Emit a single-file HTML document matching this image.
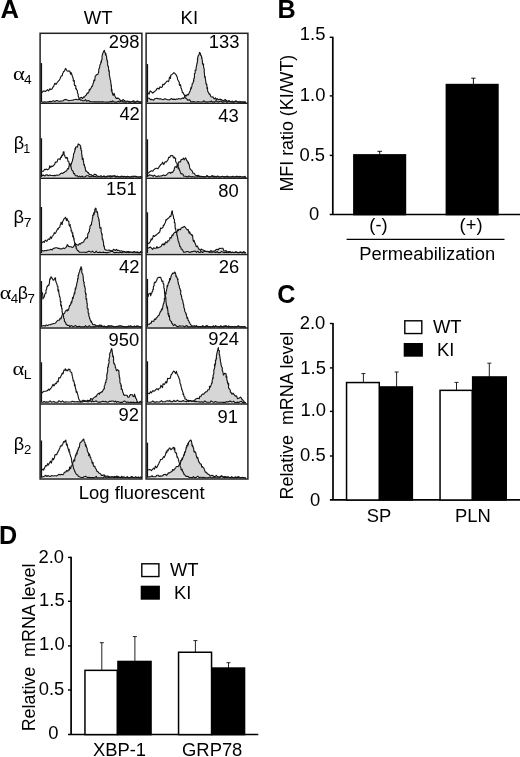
<!DOCTYPE html>
<html><head><meta charset="utf-8"><title>Figure</title>
<style>
html,body{margin:0;padding:0;background:#fff;}
body{width:520px;height:757px;overflow:hidden;}
svg{display:block;font-family:"Liberation Sans",sans-serif;fill:#000;will-change:transform;}
</style></head><body>
<svg width="520" height="757" viewBox="0 0 520 757">
<g id="hist">
<path d="M42.0 102.1 L43.5 102.1 L44.4 101.8 L45.7 102.1 L46.5 102.0 L48.1 101.9 L48.6 101.9 L50.1 101.4 L51.0 101.7 L52.1 101.2 L53.3 100.8 L54.9 101.5 L56.2 100.6 L57.1 100.5 L58.6 101.3 L59.4 101.2 L60.6 101.1 L61.6 101.0 L63.0 100.9 L64.0 100.0 L65.1 99.4 L66.6 99.8 L67.4 100.1 L68.9 100.8 L70.1 100.5 L71.5 100.3 L72.8 100.1 L73.5 99.9 L75.0 99.5 L75.9 99.2 L77.1 99.8 L78.4 99.7 L79.5 99.0 L80.5 97.7 L81.5 97.3 L82.6 98.5 L83.7 96.9 L84.3 97.3 L85.7 95.3 L86.2 95.3 L87.2 92.9 L87.8 93.5 L89.0 91.6 L89.4 89.2 L89.7 90.2 L90.4 89.2 L91.2 87.7 L91.8 86.2 L92.0 86.6 L92.6 85.7 L93.2 83.2 L93.6 82.5 L93.9 80.1 L94.3 80.8 L94.8 80.4 L95.1 76.8 L95.3 76.1 L96.0 75.5 L96.4 74.7 L97.8 74.4 L98.5 72.6 L98.7 72.0 L98.8 69.3 L99.5 67.8 L99.9 66.1 L99.8 65.4 L100.3 64.1 L100.6 64.1 L100.7 63.3 L101.3 60.5 L101.4 62.1 L101.5 60.2 L102.1 59.5 L102.0 57.7 L102.2 55.6 L102.4 54.7 L102.7 53.6 L103.6 51.5 L103.6 51.3 L104.4 50.4 L104.5 51.8 L105.2 52.7 L105.6 55.1 L105.7 53.2 L106.3 55.7 L106.6 56.5 L106.7 59.6 L106.6 59.1 L107.4 60.4 L107.1 61.5 L107.6 61.6 L107.6 64.8 L107.8 65.8 L108.0 66.3 L108.5 66.5 L108.5 68.1 L108.8 71.2 L108.9 70.2 L109.2 70.7 L109.4 73.3 L109.1 73.9 L109.5 75.7 L109.8 77.2 L110.1 78.8 L110.1 79.0 L110.1 79.1 L110.7 80.9 L110.6 81.4 L111.1 84.4 L111.0 85.7 L111.2 84.8 L111.5 86.5 L111.4 88.9 L111.4 90.9 L111.8 89.1 L112.0 91.0 L112.2 92.7 L113.1 95.4 L114.1 93.3 L114.7 95.4 L115.4 96.9 L116.2 98.4 L117.7 98.1 L118.9 98.5 L119.7 99.7 L120.7 100.5 L122.1 100.7 L123.0 99.5 L124.4 100.6 L125.5 101.2 L126.9 101.3 L127.5 101.5 L129.1 101.3 L130.1 101.8 L131.2 102.0 L132.7 101.3 L133.9 100.8 L134.8 102.1 L135.6 102.1 L137.2 101.0 L138.5 101.6 L139.5 102.1 L140.9 102.1 L141.9 102.6 L141.9 102.1 L42.0 102.1 Z" fill="#d6d6d6" stroke="none"/>
<path d="M42.0 102.1 L43.5 102.1 L44.4 101.8 L45.7 102.1 L46.5 102.0 L48.1 101.9 L48.6 101.9 L50.1 101.4 L51.0 101.7 L52.1 101.2 L53.3 100.8 L54.9 101.5 L56.2 100.6 L57.1 100.5 L58.6 101.3 L59.4 101.2 L60.6 101.1 L61.6 101.0 L63.0 100.9 L64.0 100.0 L65.1 99.4 L66.6 99.8 L67.4 100.1 L68.9 100.8 L70.1 100.5 L71.5 100.3 L72.8 100.1 L73.5 99.9 L75.0 99.5 L75.9 99.2 L77.1 99.8 L78.4 99.7 L79.5 99.0 L80.5 97.7 L81.5 97.3 L82.6 98.5 L83.7 96.9 L84.3 97.3 L85.7 95.3 L86.2 95.3 L87.2 92.9 L87.8 93.5 L89.0 91.6 L89.4 89.2 L89.7 90.2 L90.4 89.2 L91.2 87.7 L91.8 86.2 L92.0 86.6 L92.6 85.7 L93.2 83.2 L93.6 82.5 L93.9 80.1 L94.3 80.8 L94.8 80.4 L95.1 76.8 L95.3 76.1 L96.0 75.5 L96.4 74.7 L97.8 74.4 L98.5 72.6 L98.7 72.0 L98.8 69.3 L99.5 67.8 L99.9 66.1 L99.8 65.4 L100.3 64.1 L100.6 64.1 L100.7 63.3 L101.3 60.5 L101.4 62.1 L101.5 60.2 L102.1 59.5 L102.0 57.7 L102.2 55.6 L102.4 54.7 L102.7 53.6 L103.6 51.5 L103.6 51.3 L104.4 50.4 L104.5 51.8 L105.2 52.7 L105.6 55.1 L105.7 53.2 L106.3 55.7 L106.6 56.5 L106.7 59.6 L106.6 59.1 L107.4 60.4 L107.1 61.5 L107.6 61.6 L107.6 64.8 L107.8 65.8 L108.0 66.3 L108.5 66.5 L108.5 68.1 L108.8 71.2 L108.9 70.2 L109.2 70.7 L109.4 73.3 L109.1 73.9 L109.5 75.7 L109.8 77.2 L110.1 78.8 L110.1 79.0 L110.1 79.1 L110.7 80.9 L110.6 81.4 L111.1 84.4 L111.0 85.7 L111.2 84.8 L111.5 86.5 L111.4 88.9 L111.4 90.9 L111.8 89.1 L112.0 91.0 L112.2 92.7 L113.1 95.4 L114.1 93.3 L114.7 95.4 L115.4 96.9 L116.2 98.4 L117.7 98.1 L118.9 98.5 L119.7 99.7 L120.7 100.5 L122.1 100.7 L123.0 99.5 L124.4 100.6 L125.5 101.2 L126.9 101.3 L127.5 101.5 L129.1 101.3 L130.1 101.8 L131.2 102.0 L132.7 101.3 L133.9 100.8 L134.8 102.1 L135.6 102.1 L137.2 101.0 L138.5 101.6 L139.5 102.1 L140.9 102.1 L141.9 102.6" fill="none" stroke="#141414" stroke-width="1.12" stroke-linejoin="round"/>
<path d="M42.0 92.7 L43.0 91.2 L44.2 90.9 L45.4 91.4 L46.7 90.6 L47.5 89.7 L48.7 90.8 L49.9 88.7 L50.8 89.6 L52.0 89.0 L53.0 87.0 L53.8 86.2 L54.6 83.6 L55.1 83.3 L56.0 84.5 L57.2 82.5 L57.7 81.9 L58.6 80.9 L59.4 80.0 L59.6 79.9 L60.3 78.1 L61.2 76.1 L61.5 75.8 L62.3 75.6 L62.6 73.5 L63.1 72.7 L63.6 71.6 L64.3 71.2 L65.0 69.6 L65.7 68.4 L66.9 70.7 L68.1 71.3 L68.9 70.9 L69.7 71.0 L70.7 74.3 L71.0 72.5 L72.0 74.7 L72.1 75.7 L72.4 76.2 L73.3 78.8 L73.2 80.8 L73.9 81.3 L74.4 80.6 L74.3 84.5 L74.8 85.7 L75.2 85.3 L75.9 86.4 L75.7 88.7 L76.3 88.5 L76.4 89.4 L77.1 90.4 L77.4 90.6 L77.4 93.1 L78.2 94.0 L78.1 95.7 L79.0 98.0 L78.9 99.0 L79.5 99.1 L80.5 100.1 L81.4 100.0 L82.8 100.9 L84.4 100.7 L85.6 99.6 L86.5 101.2 L88.1 100.6 L89.0 100.8 L90.2 101.8 L91.1 101.8 L92.8 101.8 L93.8 101.9 L94.8 101.9 L96.3 101.9 L97.1 101.9 L98.3 101.9 L99.8 101.9 L101.4 102.0 L102.5 101.6 L103.5 102.0 L104.6 102.0 L106.1 102.0 L106.9 102.1 L108.0 102.1 L109.5 102.1 L110.8 101.3 L111.8 102.1 L112.8 100.9 L114.5 102.1 L115.1 102.1 L116.8 102.1 L118.2 101.4 L119.0 101.4 L120.0 101.9 L121.4 101.0 L122.7 101.9 L124.2 101.9 L125.2 102.1 L126.2 102.1 L127.6 101.1 L128.6 102.1 L130.2 102.1 L130.7 102.1 L132.5 101.2 L133.4 102.1 L134.4 102.1 L136.1 102.1 L137.4 101.2 L138.1 101.7 L139.2 102.1 L140.5 102.1 L141.9 102.6" fill="none" stroke="#141414" stroke-width="1.12" stroke-linejoin="round"/>
<rect x="40.6" y="63.1" width="1.5" height="39.0" fill="#111"/>
<path d="M148.1 98.0 L149.1 98.3 L150.8 99.7 L151.4 99.4 L152.8 99.7 L153.7 100.2 L154.6 98.8 L155.9 98.5 L157.0 98.4 L158.1 98.7 L159.2 98.9 L160.6 98.7 L161.8 99.3 L163.4 99.7 L164.4 98.8 L165.8 99.1 L167.1 99.6 L168.2 99.7 L169.2 100.0 L170.7 99.0 L171.7 98.6 L172.4 99.4 L173.9 99.1 L175.4 99.6 L176.5 99.0 L177.3 99.3 L178.8 98.5 L180.2 99.0 L181.2 98.9 L182.4 98.0 L183.6 98.4 L184.3 97.4 L185.3 95.2 L186.6 95.9 L187.1 94.4 L188.2 94.9 L189.1 93.1 L189.8 91.6 L190.2 91.0 L190.9 87.5 L191.2 88.8 L191.7 86.9 L192.3 84.1 L192.2 83.6 L193.0 83.2 L193.4 81.3 L193.6 79.9 L193.7 81.4 L193.9 78.2 L194.4 78.1 L194.5 76.8 L194.4 73.8 L195.1 73.3 L195.2 72.3 L195.1 70.2 L195.7 69.9 L196.0 70.2 L196.1 68.4 L196.3 66.5 L196.5 66.0 L197.0 63.6 L197.2 62.8 L196.8 64.1 L197.5 61.3 L197.5 61.9 L197.5 58.4 L197.7 59.5 L197.8 57.1 L198.3 55.7 L199.1 54.7 L199.5 52.3 L199.7 52.5 L200.5 53.6 L200.6 55.3 L201.4 55.7 L201.6 58.2 L201.5 56.4 L202.1 59.2 L202.1 59.7 L202.4 61.1 L202.5 63.9 L203.3 64.8 L203.6 63.8 L203.5 66.3 L204.0 68.3 L203.8 68.1 L204.4 69.6 L204.1 71.5 L204.3 72.2 L204.3 72.2 L204.6 76.1 L204.8 77.6 L205.2 76.6 L205.2 77.6 L205.8 81.4 L205.7 81.1 L206.0 83.3 L206.5 84.8 L206.6 84.8 L206.8 84.2 L207.0 86.8 L207.0 88.6 L207.6 87.7 L207.5 89.2 L207.8 91.6 L208.3 92.1 L209.4 94.5 L209.8 94.0 L210.4 95.3 L211.0 96.9 L211.8 97.0 L212.9 96.9 L214.2 99.0 L215.5 97.9 L216.3 99.9 L217.1 98.6 L218.4 99.7 L219.4 99.2 L220.5 99.4 L221.9 99.9 L223.2 101.0 L224.1 100.3 L225.3 99.5 L226.3 100.6 L227.6 101.2 L229.1 100.6 L230.1 101.6 L231.1 101.8 L232.4 101.1 L233.3 101.9 L234.7 102.0 L236.0 100.8 L237.5 102.1 L238.2 102.1 L239.9 101.9 L241.3 101.9 L241.9 102.0 L243.7 102.1 L244.9 101.7 L245.9 102.6 L245.9 102.1 L148.1 102.1 Z" fill="#d6d6d6" stroke="none"/>
<path d="M148.1 98.0 L149.1 98.3 L150.8 99.7 L151.4 99.4 L152.8 99.7 L153.7 100.2 L154.6 98.8 L155.9 98.5 L157.0 98.4 L158.1 98.7 L159.2 98.9 L160.6 98.7 L161.8 99.3 L163.4 99.7 L164.4 98.8 L165.8 99.1 L167.1 99.6 L168.2 99.7 L169.2 100.0 L170.7 99.0 L171.7 98.6 L172.4 99.4 L173.9 99.1 L175.4 99.6 L176.5 99.0 L177.3 99.3 L178.8 98.5 L180.2 99.0 L181.2 98.9 L182.4 98.0 L183.6 98.4 L184.3 97.4 L185.3 95.2 L186.6 95.9 L187.1 94.4 L188.2 94.9 L189.1 93.1 L189.8 91.6 L190.2 91.0 L190.9 87.5 L191.2 88.8 L191.7 86.9 L192.3 84.1 L192.2 83.6 L193.0 83.2 L193.4 81.3 L193.6 79.9 L193.7 81.4 L193.9 78.2 L194.4 78.1 L194.5 76.8 L194.4 73.8 L195.1 73.3 L195.2 72.3 L195.1 70.2 L195.7 69.9 L196.0 70.2 L196.1 68.4 L196.3 66.5 L196.5 66.0 L197.0 63.6 L197.2 62.8 L196.8 64.1 L197.5 61.3 L197.5 61.9 L197.5 58.4 L197.7 59.5 L197.8 57.1 L198.3 55.7 L199.1 54.7 L199.5 52.3 L199.7 52.5 L200.5 53.6 L200.6 55.3 L201.4 55.7 L201.6 58.2 L201.5 56.4 L202.1 59.2 L202.1 59.7 L202.4 61.1 L202.5 63.9 L203.3 64.8 L203.6 63.8 L203.5 66.3 L204.0 68.3 L203.8 68.1 L204.4 69.6 L204.1 71.5 L204.3 72.2 L204.3 72.2 L204.6 76.1 L204.8 77.6 L205.2 76.6 L205.2 77.6 L205.8 81.4 L205.7 81.1 L206.0 83.3 L206.5 84.8 L206.6 84.8 L206.8 84.2 L207.0 86.8 L207.0 88.6 L207.6 87.7 L207.5 89.2 L207.8 91.6 L208.3 92.1 L209.4 94.5 L209.8 94.0 L210.4 95.3 L211.0 96.9 L211.8 97.0 L212.9 96.9 L214.2 99.0 L215.5 97.9 L216.3 99.9 L217.1 98.6 L218.4 99.7 L219.4 99.2 L220.5 99.4 L221.9 99.9 L223.2 101.0 L224.1 100.3 L225.3 99.5 L226.3 100.6 L227.6 101.2 L229.1 100.6 L230.1 101.6 L231.1 101.8 L232.4 101.1 L233.3 101.9 L234.7 102.0 L236.0 100.8 L237.5 102.1 L238.2 102.1 L239.9 101.9 L241.3 101.9 L241.9 102.0 L243.7 102.1 L244.9 101.7 L245.9 102.6" fill="none" stroke="#141414" stroke-width="1.12" stroke-linejoin="round"/>
<path d="M148.1 92.7 L149.1 94.1 L150.1 90.9 L151.6 92.0 L152.8 93.2 L154.0 92.0 L154.9 91.2 L156.0 90.4 L157.2 88.4 L158.3 88.4 L159.0 89.2 L160.0 86.8 L161.2 87.4 L162.3 87.0 L162.7 84.3 L164.0 84.8 L164.7 83.4 L165.4 83.2 L166.7 81.3 L167.6 81.1 L168.4 81.6 L169.0 80.3 L169.5 77.0 L170.5 78.4 L170.8 75.1 L171.8 74.7 L173.0 73.6 L173.9 72.6 L174.8 73.4 L176.0 74.7 L176.8 76.3 L176.6 75.9 L177.3 77.3 L177.6 79.5 L178.5 81.0 L178.5 81.1 L179.2 82.1 L179.4 84.9 L179.7 85.5 L180.4 84.7 L180.9 86.1 L180.8 88.0 L181.3 88.2 L182.0 90.9 L182.0 90.3 L182.4 92.7 L183.4 92.8 L183.4 93.7 L184.2 94.7 L185.2 97.9 L185.6 98.0 L187.0 99.2 L187.6 100.3 L189.1 99.9 L189.8 99.8 L190.9 101.9 L192.2 101.9 L193.5 101.5 L194.4 101.9 L195.3 102.0 L196.6 102.0 L198.4 101.6 L199.3 102.0 L200.4 102.0 L201.9 102.0 L202.6 101.7 L204.0 100.8 L205.3 102.1 L206.2 101.7 L207.8 102.1 L208.5 101.7 L209.9 101.7 L211.4 100.9 L212.3 102.1 L213.3 101.8 L214.6 102.1 L215.7 100.9 L217.1 101.4 L218.3 102.1 L219.3 101.5 L220.9 101.0 L222.3 102.1 L222.8 102.1 L224.7 101.5 L225.9 101.0 L226.4 102.1 L227.7 102.1 L229.5 101.1 L230.6 102.0 L231.8 102.0 L233.0 102.1 L233.6 102.1 L235.0 101.2 L236.5 101.2 L237.3 101.7 L238.7 102.1 L239.6 101.7 L241.0 102.1 L242.1 102.1 L243.6 102.1 L244.7 102.1 L245.9 102.6" fill="none" stroke="#141414" stroke-width="1.12" stroke-linejoin="round"/>
<rect x="146.6" y="64.1" width="1.5" height="38.0" fill="#111"/>
<path d="M42.0 175.4 L43.6 175.1 L44.9 176.0 L45.5 175.1 L47.1 174.8 L48.3 175.7 L49.6 175.0 L50.9 175.4 L52.2 175.5 L53.6 175.6 L54.3 175.4 L55.6 175.6 L56.9 175.1 L58.0 175.3 L59.4 174.8 L60.3 173.8 L61.7 173.1 L62.4 173.4 L63.9 172.5 L64.6 172.2 L65.1 171.3 L66.1 171.3 L66.5 171.1 L67.7 168.6 L68.5 168.9 L68.9 166.9 L69.4 164.3 L69.9 163.5 L70.8 165.4 L71.3 164.2 L72.0 161.7 L72.3 161.7 L72.8 158.5 L72.7 159.6 L73.3 157.2 L73.5 154.7 L73.7 153.2 L74.2 153.2 L74.6 151.3 L74.7 151.6 L75.1 148.3 L75.4 149.5 L75.7 147.2 L76.3 146.8 L77.4 147.1 L78.2 143.9 L79.5 144.7 L80.5 145.8 L80.7 146.6 L80.6 148.6 L81.1 148.1 L81.0 150.1 L81.7 150.9 L81.6 152.1 L81.6 153.4 L82.2 156.3 L81.8 155.8 L82.2 157.4 L82.3 159.5 L83.1 158.3 L83.3 161.0 L83.7 162.2 L83.7 163.8 L83.8 164.9 L84.4 164.6 L85.0 168.0 L85.2 167.4 L85.5 169.6 L85.8 171.2 L86.5 171.0 L87.8 172.7 L88.3 172.6 L89.5 174.6 L90.0 174.8 L90.9 174.5 L92.7 175.9 L93.2 175.4 L94.7 174.3 L96.0 174.6 L97.2 176.1 L98.4 176.3 L99.5 176.5 L101.0 175.7 L101.7 176.2 L102.8 176.6 L104.1 175.9 L105.3 176.7 L107.1 176.8 L107.7 176.8 L109.5 176.0 L110.1 175.6 L111.4 176.9 L112.8 176.2 L114.3 175.7 L115.2 175.8 L116.5 177.0 L117.5 176.3 L119.0 176.8 L120.1 176.8 L121.0 177.0 L122.9 176.4 L123.6 176.9 L125.2 176.5 L126.4 176.9 L127.3 177.0 L128.3 177.0 L129.7 177.0 L131.0 177.0 L131.9 176.2 L133.2 176.2 L134.5 176.2 L135.9 176.3 L137.2 177.0 L138.4 177.0 L139.1 177.0 L141.0 177.0 L141.9 177.7 L141.9 177.0 L42.0 177.0 Z" fill="#d6d6d6" stroke="none"/>
<path d="M42.0 175.4 L43.6 175.1 L44.9 176.0 L45.5 175.1 L47.1 174.8 L48.3 175.7 L49.6 175.0 L50.9 175.4 L52.2 175.5 L53.6 175.6 L54.3 175.4 L55.6 175.6 L56.9 175.1 L58.0 175.3 L59.4 174.8 L60.3 173.8 L61.7 173.1 L62.4 173.4 L63.9 172.5 L64.6 172.2 L65.1 171.3 L66.1 171.3 L66.5 171.1 L67.7 168.6 L68.5 168.9 L68.9 166.9 L69.4 164.3 L69.9 163.5 L70.8 165.4 L71.3 164.2 L72.0 161.7 L72.3 161.7 L72.8 158.5 L72.7 159.6 L73.3 157.2 L73.5 154.7 L73.7 153.2 L74.2 153.2 L74.6 151.3 L74.7 151.6 L75.1 148.3 L75.4 149.5 L75.7 147.2 L76.3 146.8 L77.4 147.1 L78.2 143.9 L79.5 144.7 L80.5 145.8 L80.7 146.6 L80.6 148.6 L81.1 148.1 L81.0 150.1 L81.7 150.9 L81.6 152.1 L81.6 153.4 L82.2 156.3 L81.8 155.8 L82.2 157.4 L82.3 159.5 L83.1 158.3 L83.3 161.0 L83.7 162.2 L83.7 163.8 L83.8 164.9 L84.4 164.6 L85.0 168.0 L85.2 167.4 L85.5 169.6 L85.8 171.2 L86.5 171.0 L87.8 172.7 L88.3 172.6 L89.5 174.6 L90.0 174.8 L90.9 174.5 L92.7 175.9 L93.2 175.4 L94.7 174.3 L96.0 174.6 L97.2 176.1 L98.4 176.3 L99.5 176.5 L101.0 175.7 L101.7 176.2 L102.8 176.6 L104.1 175.9 L105.3 176.7 L107.1 176.8 L107.7 176.8 L109.5 176.0 L110.1 175.6 L111.4 176.9 L112.8 176.2 L114.3 175.7 L115.2 175.8 L116.5 177.0 L117.5 176.3 L119.0 176.8 L120.1 176.8 L121.0 177.0 L122.9 176.4 L123.6 176.9 L125.2 176.5 L126.4 176.9 L127.3 177.0 L128.3 177.0 L129.7 177.0 L131.0 177.0 L131.9 176.2 L133.2 176.2 L134.5 176.2 L135.9 176.3 L137.2 177.0 L138.4 177.0 L139.1 177.0 L141.0 177.0 L141.9 177.7" fill="none" stroke="#141414" stroke-width="1.12" stroke-linejoin="round"/>
<path d="M42.0 171.2 L43.4 171.3 L44.7 169.2 L45.8 169.6 L46.7 169.1 L47.5 169.9 L49.1 168.8 L49.8 165.7 L50.7 167.4 L52.0 165.9 L52.7 166.5 L53.5 165.6 L54.9 163.8 L55.3 162.1 L56.2 162.4 L57.2 161.7 L57.8 159.3 L59.2 158.8 L60.1 159.7 L60.8 157.1 L61.5 157.4 L61.9 155.0 L62.1 155.7 L62.6 155.5 L63.1 153.4 L63.2 152.1 L64.0 151.8 L64.1 154.7 L64.6 155.3 L65.2 157.0 L66.1 158.4 L66.8 157.4 L67.5 158.0 L67.6 159.4 L68.1 161.5 L68.9 161.7 L69.2 164.0 L70.1 164.6 L70.3 165.6 L70.3 165.9 L70.9 166.1 L71.5 169.3 L72.0 170.1 L72.9 171.2 L73.1 171.3 L73.6 173.6 L74.5 173.5 L75.2 175.4 L76.3 175.9 L77.1 175.6 L78.4 176.9 L79.5 176.1 L80.6 176.9 L82.2 176.1 L82.9 177.0 L84.5 177.0 L85.3 176.6 L86.5 175.7 L88.2 175.7 L89.4 176.6 L90.1 177.0 L91.9 176.3 L92.9 176.3 L94.0 176.7 L95.3 176.3 L96.1 177.0 L97.3 177.0 L98.4 176.4 L99.8 177.0 L101.5 177.0 L102.0 177.0 L103.7 176.4 L104.5 177.0 L106.0 177.0 L107.2 176.0 L108.3 176.0 L109.3 176.5 L110.4 177.0 L111.6 176.0 L113.3 176.0 L114.4 176.1 L115.8 177.0 L117.0 176.1 L118.1 177.0 L118.9 177.0 L120.2 177.0 L121.2 176.1 L123.0 177.0 L124.2 176.2 L125.3 177.0 L126.4 177.0 L127.5 176.2 L129.1 176.7 L130.0 177.0 L130.8 177.0 L132.0 176.8 L133.8 177.0 L134.5 176.3 L136.1 177.0 L136.9 177.0 L138.2 177.0 L139.4 177.0 L141.0 176.4 L141.9 177.7" fill="none" stroke="#141414" stroke-width="1.12" stroke-linejoin="round"/>
<rect x="40.6" y="138.3" width="1.5" height="38.7" fill="#111"/>
<path d="M148.1 176.0 L149.6 174.8 L150.6 175.3 L152.1 175.4 L153.1 176.3 L154.3 175.1 L155.9 176.4 L157.0 176.5 L158.3 175.9 L159.5 176.2 L160.4 176.0 L161.6 175.9 L163.4 174.9 L164.6 175.6 L165.5 175.4 L166.2 175.2 L167.7 173.7 L168.3 172.9 L169.9 172.3 L170.5 173.3 L171.8 172.2 L172.5 172.5 L173.5 170.9 L174.0 170.4 L174.4 168.3 L175.0 166.8 L176.0 166.9 L176.9 167.4 L177.0 165.7 L178.0 164.6 L178.3 162.7 L179.2 161.7 L180.4 162.0 L181.2 159.5 L182.4 159.5 L183.4 158.1 L184.2 159.8 L185.6 157.8 L186.4 159.7 L186.7 160.7 L187.0 160.6 L187.7 161.7 L188.3 163.6 L188.4 162.2 L188.7 163.5 L189.1 164.4 L189.7 167.7 L189.8 168.0 L190.3 169.3 L191.1 169.9 L191.9 170.6 L192.3 171.2 L193.0 173.3 L194.2 173.2 L195.4 175.2 L196.5 175.5 L197.2 176.0 L198.2 175.3 L199.5 176.3 L201.1 176.4 L202.1 176.5 L203.6 176.6 L204.5 176.8 L205.7 176.9 L207.0 175.6 L208.3 177.0 L209.1 177.0 L210.9 176.6 L211.6 175.8 L212.8 175.8 L214.2 177.0 L215.8 176.8 L216.6 176.4 L217.8 175.9 L219.0 176.9 L220.5 177.0 L221.9 176.5 L223.0 176.5 L224.2 177.0 L225.1 176.6 L226.7 177.0 L227.6 176.1 L228.9 177.0 L230.2 177.0 L231.3 177.0 L232.9 176.2 L233.8 177.0 L234.9 177.0 L236.5 176.2 L237.2 176.8 L239.0 177.0 L239.7 176.3 L241.0 176.8 L242.2 177.0 L243.3 177.0 L245.0 176.4 L245.9 177.7 L245.9 177.0 L148.1 177.0 Z" fill="#d6d6d6" stroke="none"/>
<path d="M148.1 176.0 L149.6 174.8 L150.6 175.3 L152.1 175.4 L153.1 176.3 L154.3 175.1 L155.9 176.4 L157.0 176.5 L158.3 175.9 L159.5 176.2 L160.4 176.0 L161.6 175.9 L163.4 174.9 L164.6 175.6 L165.5 175.4 L166.2 175.2 L167.7 173.7 L168.3 172.9 L169.9 172.3 L170.5 173.3 L171.8 172.2 L172.5 172.5 L173.5 170.9 L174.0 170.4 L174.4 168.3 L175.0 166.8 L176.0 166.9 L176.9 167.4 L177.0 165.7 L178.0 164.6 L178.3 162.7 L179.2 161.7 L180.4 162.0 L181.2 159.5 L182.4 159.5 L183.4 158.1 L184.2 159.8 L185.6 157.8 L186.4 159.7 L186.7 160.7 L187.0 160.6 L187.7 161.7 L188.3 163.6 L188.4 162.2 L188.7 163.5 L189.1 164.4 L189.7 167.7 L189.8 168.0 L190.3 169.3 L191.1 169.9 L191.9 170.6 L192.3 171.2 L193.0 173.3 L194.2 173.2 L195.4 175.2 L196.5 175.5 L197.2 176.0 L198.2 175.3 L199.5 176.3 L201.1 176.4 L202.1 176.5 L203.6 176.6 L204.5 176.8 L205.7 176.9 L207.0 175.6 L208.3 177.0 L209.1 177.0 L210.9 176.6 L211.6 175.8 L212.8 175.8 L214.2 177.0 L215.8 176.8 L216.6 176.4 L217.8 175.9 L219.0 176.9 L220.5 177.0 L221.9 176.5 L223.0 176.5 L224.2 177.0 L225.1 176.6 L226.7 177.0 L227.6 176.1 L228.9 177.0 L230.2 177.0 L231.3 177.0 L232.9 176.2 L233.8 177.0 L234.9 177.0 L236.5 176.2 L237.2 176.8 L239.0 177.0 L239.7 176.3 L241.0 176.8 L242.2 177.0 L243.3 177.0 L245.0 176.4 L245.9 177.7" fill="none" stroke="#141414" stroke-width="1.12" stroke-linejoin="round"/>
<path d="M148.1 173.3 L149.4 172.0 L150.2 171.5 L151.5 170.8 L152.8 171.2 L153.7 169.9 L155.2 168.6 L156.2 168.3 L156.7 168.2 L158.0 168.8 L159.1 166.9 L160.4 165.2 L160.6 164.7 L162.0 163.8 L162.6 162.2 L163.8 164.4 L164.7 162.7 L165.5 161.7 L166.5 162.0 L167.4 160.5 L168.1 159.6 L168.6 157.3 L169.7 157.4 L170.7 155.6 L172.0 155.5 L172.9 155.7 L173.4 158.0 L174.4 157.2 L175.0 158.5 L175.7 158.4 L175.5 160.6 L176.3 162.9 L176.9 163.3 L177.1 163.8 L177.4 166.3 L178.2 164.5 L178.2 168.8 L178.7 167.8 L179.7 170.5 L179.7 170.2 L180.3 172.2 L181.1 173.9 L181.9 173.6 L182.9 174.3 L183.5 176.0 L184.6 176.3 L185.8 176.2 L186.4 176.6 L187.7 177.0 L188.7 176.0 L190.3 176.5 L191.4 177.0 L192.3 176.5 L193.5 177.0 L194.8 176.9 L195.7 177.0 L197.3 177.0 L198.3 176.1 L199.3 177.0 L200.9 177.0 L202.3 176.6 L203.1 177.0 L204.1 177.0 L205.7 177.0 L206.5 176.1 L207.9 176.1 L209.3 177.0 L210.2 177.0 L211.7 176.2 L212.6 177.0 L214.0 177.0 L214.8 176.2 L216.1 177.0 L217.2 177.0 L218.7 177.0 L219.9 177.0 L220.6 177.0 L222.4 176.2 L223.2 177.0 L224.4 177.0 L225.7 177.0 L226.6 176.3 L227.8 177.0 L229.5 177.0 L230.2 177.0 L231.9 176.8 L232.9 177.0 L234.1 177.0 L235.3 177.0 L236.7 177.0 L237.4 176.3 L238.5 176.9 L240.2 177.0 L241.3 177.0 L242.5 177.0 L243.8 177.0 L244.5 176.9 L245.9 177.7" fill="none" stroke="#141414" stroke-width="1.12" stroke-linejoin="round"/>
<rect x="146.6" y="139.3" width="1.5" height="37.7" fill="#111"/>
<path d="M42.0 250.4 L43.3 251.0 L44.7 250.6 L46.0 250.7 L46.9 250.4 L48.4 250.0 L49.6 250.0 L50.9 249.3 L52.2 250.0 L53.1 248.5 L54.5 248.1 L55.7 247.7 L57.0 247.8 L58.2 248.4 L59.4 248.3 L60.3 249.0 L61.9 248.9 L63.3 248.0 L64.4 248.6 L65.7 247.6 L66.7 246.5 L67.2 244.6 L67.8 245.1 L68.5 246.4 L69.9 246.8 L71.1 246.8 L71.9 247.4 L73.1 247.3 L74.4 245.4 L75.4 243.5 L76.3 244.7 L77.2 244.8 L78.3 245.2 L79.5 243.6 L80.3 244.2 L81.5 242.7 L82.6 242.6 L83.7 241.8 L84.5 239.9 L85.2 239.3 L86.0 237.9 L86.9 237.7 L87.4 238.1 L87.6 236.3 L87.9 233.5 L88.5 233.2 L88.5 232.7 L89.5 231.3 L89.3 229.5 L90.0 228.2 L89.9 226.4 L90.9 224.8 L91.0 225.1 L91.5 224.6 L91.5 222.8 L91.9 221.7 L92.2 220.4 L92.4 218.0 L92.8 217.7 L92.7 215.3 L93.2 215.5 L93.7 212.9 L94.0 214.8 L94.5 211.9 L94.7 212.2 L94.8 209.4 L95.2 208.9 L95.7 208.1 L96.2 209.1 L96.1 212.0 L96.5 212.0 L97.4 211.7 L97.8 214.5 L97.9 215.5 L97.8 216.5 L98.5 217.4 L99.0 220.5 L98.8 220.0 L99.2 219.9 L99.1 221.4 L99.3 221.9 L99.6 225.4 L99.8 227.5 L100.1 228.3 L100.6 228.2 L101.0 227.7 L101.2 229.7 L101.0 230.7 L101.7 233.8 L101.9 235.3 L102.1 233.9 L102.2 237.2 L102.3 239.1 L102.7 238.8 L103.1 241.5 L102.8 239.5 L103.6 242.8 L103.5 242.0 L103.6 245.4 L104.1 246.9 L104.2 245.7 L104.5 248.3 L104.8 249.3 L105.6 249.9 L106.8 250.3 L108.1 250.2 L109.0 250.0 L110.1 250.4 L111.7 250.7 L112.7 250.5 L113.6 249.3 L115.4 250.5 L116.5 249.3 L117.4 250.4 L118.9 250.3 L119.7 251.2 L120.7 251.0 L121.8 250.8 L123.0 251.9 L124.3 251.7 L125.6 252.2 L126.7 251.7 L127.6 251.9 L128.7 251.6 L130.0 252.2 L131.3 252.3 L132.7 252.4 L133.4 251.6 L135.0 251.7 L135.9 252.2 L137.2 252.6 L138.6 252.3 L139.7 252.8 L141.0 251.5 L141.9 252.9 L141.9 253.2 L42.0 253.2 Z" fill="#d6d6d6" stroke="none"/>
<path d="M42.0 250.4 L43.3 251.0 L44.7 250.6 L46.0 250.7 L46.9 250.4 L48.4 250.0 L49.6 250.0 L50.9 249.3 L52.2 250.0 L53.1 248.5 L54.5 248.1 L55.7 247.7 L57.0 247.8 L58.2 248.4 L59.4 248.3 L60.3 249.0 L61.9 248.9 L63.3 248.0 L64.4 248.6 L65.7 247.6 L66.7 246.5 L67.2 244.6 L67.8 245.1 L68.5 246.4 L69.9 246.8 L71.1 246.8 L71.9 247.4 L73.1 247.3 L74.4 245.4 L75.4 243.5 L76.3 244.7 L77.2 244.8 L78.3 245.2 L79.5 243.6 L80.3 244.2 L81.5 242.7 L82.6 242.6 L83.7 241.8 L84.5 239.9 L85.2 239.3 L86.0 237.9 L86.9 237.7 L87.4 238.1 L87.6 236.3 L87.9 233.5 L88.5 233.2 L88.5 232.7 L89.5 231.3 L89.3 229.5 L90.0 228.2 L89.9 226.4 L90.9 224.8 L91.0 225.1 L91.5 224.6 L91.5 222.8 L91.9 221.7 L92.2 220.4 L92.4 218.0 L92.8 217.7 L92.7 215.3 L93.2 215.5 L93.7 212.9 L94.0 214.8 L94.5 211.9 L94.7 212.2 L94.8 209.4 L95.2 208.9 L95.7 208.1 L96.2 209.1 L96.1 212.0 L96.5 212.0 L97.4 211.7 L97.8 214.5 L97.9 215.5 L97.8 216.5 L98.5 217.4 L99.0 220.5 L98.8 220.0 L99.2 219.9 L99.1 221.4 L99.3 221.9 L99.6 225.4 L99.8 227.5 L100.1 228.3 L100.6 228.2 L101.0 227.7 L101.2 229.7 L101.0 230.7 L101.7 233.8 L101.9 235.3 L102.1 233.9 L102.2 237.2 L102.3 239.1 L102.7 238.8 L103.1 241.5 L102.8 239.5 L103.6 242.8 L103.5 242.0 L103.6 245.4 L104.1 246.9 L104.2 245.7 L104.5 248.3 L104.8 249.3 L105.6 249.9 L106.8 250.3 L108.1 250.2 L109.0 250.0 L110.1 250.4 L111.7 250.7 L112.7 250.5 L113.6 249.3 L115.4 250.5 L116.5 249.3 L117.4 250.4 L118.9 250.3 L119.7 251.2 L120.7 251.0 L121.8 250.8 L123.0 251.9 L124.3 251.7 L125.6 252.2 L126.7 251.7 L127.6 251.9 L128.7 251.6 L130.0 252.2 L131.3 252.3 L132.7 252.4 L133.4 251.6 L135.0 251.7 L135.9 252.2 L137.2 252.6 L138.6 252.3 L139.7 252.8 L141.0 251.5 L141.9 252.9" fill="none" stroke="#141414" stroke-width="1.12" stroke-linejoin="round"/>
<path d="M42.0 243.0 L43.2 241.5 L44.3 242.3 L45.2 240.1 L46.8 241.3 L47.7 239.8 L48.3 239.0 L49.7 239.4 L50.4 236.8 L51.5 238.3 L52.1 236.4 L53.0 235.6 L53.5 235.0 L54.3 232.7 L55.2 233.5 L56.0 232.2 L56.5 231.1 L57.9 228.6 L58.3 229.2 L58.6 227.7 L59.7 227.5 L60.2 224.9 L60.7 224.4 L61.0 222.3 L62.2 224.5 L62.5 221.8 L63.2 220.6 L64.1 218.7 L64.9 218.1 L65.3 217.2 L66.1 219.0 L66.4 220.6 L67.0 218.3 L67.8 220.8 L68.0 220.8 L68.8 221.4 L69.1 225.2 L69.9 226.5 L70.2 224.6 L70.3 226.8 L71.0 228.2 L71.1 230.9 L71.7 230.7 L72.0 233.2 L72.1 232.5 L72.8 232.8 L72.6 236.8 L72.9 234.7 L73.6 236.9 L73.9 240.0 L74.1 238.2 L74.2 240.9 L74.7 242.8 L74.7 244.9 L75.5 243.3 L75.9 247.0 L76.2 246.3 L76.2 248.7 L76.7 248.8 L77.3 250.4 L78.4 250.8 L79.5 252.3 L80.7 252.3 L82.2 252.3 L83.1 252.3 L84.5 252.3 L85.8 252.4 L86.4 252.4 L88.2 251.6 L88.8 251.1 L90.6 252.0 L91.7 252.0 L92.4 251.1 L93.8 252.4 L95.1 252.5 L96.2 251.2 L97.3 252.5 L98.5 252.5 L99.9 252.1 L101.1 252.5 L102.1 252.5 L103.3 252.1 L104.5 252.5 L105.8 252.6 L106.9 252.6 L108.2 252.6 L109.2 252.2 L110.4 251.8 L112.2 251.3 L113.1 251.8 L114.0 252.6 L115.8 252.6 L117.0 252.3 L118.2 252.7 L119.0 252.7 L120.6 252.3 L121.7 252.7 L122.5 252.7 L123.6 251.4 L125.0 251.9 L126.3 252.8 L127.4 252.0 L128.7 252.8 L129.7 252.4 L130.9 252.0 L132.3 252.8 L133.6 252.8 L134.8 252.8 L136.2 252.8 L137.1 251.6 L138.1 252.9 L139.6 252.9 L140.8 251.6 L141.9 252.9" fill="none" stroke="#141414" stroke-width="1.12" stroke-linejoin="round"/>
<rect x="40.6" y="207.0" width="1.5" height="46.2" fill="#111"/>
<path d="M148.1 248.3 L149.1 247.6 L150.5 247.1 L151.7 248.3 L152.6 249.3 L153.6 247.9 L154.9 248.3 L156.3 248.3 L156.9 246.5 L157.8 248.0 L158.9 247.4 L160.5 246.7 L161.2 246.2 L162.3 244.0 L163.3 244.9 L164.2 243.4 L164.6 244.8 L165.6 241.9 L167.0 242.8 L167.6 240.9 L168.7 241.0 L169.6 239.4 L170.0 237.5 L171.1 238.2 L172.2 234.9 L172.9 235.6 L173.5 233.6 L174.5 232.6 L175.1 232.1 L176.0 232.4 L177.1 231.8 L177.9 229.2 L178.2 230.8 L179.2 229.2 L180.4 229.8 L181.2 228.0 L182.3 227.4 L183.5 227.1 L184.3 226.4 L185.6 227.7 L186.8 229.5 L187.7 229.9 L188.1 229.5 L189.1 233.1 L189.6 231.8 L190.5 234.3 L191.5 234.3 L191.9 235.6 L192.5 235.0 L192.9 238.4 L192.9 239.1 L193.4 241.4 L194.1 240.4 L194.8 243.1 L195.1 243.0 L195.8 245.2 L196.4 246.7 L197.2 245.9 L197.7 246.7 L198.5 248.7 L199.3 249.3 L200.5 250.4 L201.2 249.1 L202.4 249.8 L203.7 250.3 L204.6 250.7 L205.7 251.5 L207.2 251.3 L207.8 251.3 L209.6 252.0 L210.8 250.5 L212.0 251.3 L213.0 251.3 L214.1 251.0 L214.9 251.2 L216.0 249.7 L217.1 249.2 L218.4 249.8 L219.2 248.3 L220.2 248.5 L221.5 248.3 L222.9 248.3 L223.9 250.9 L224.7 251.0 L226.0 250.6 L227.1 252.1 L228.6 251.7 L229.6 251.5 L230.6 252.1 L232.2 252.3 L233.2 252.5 L234.6 252.5 L235.6 251.8 L236.8 252.6 L237.9 252.6 L238.9 252.7 L240.0 251.9 L241.3 252.4 L242.1 252.8 L243.4 252.8 L244.8 252.1 L245.9 252.9 L245.9 253.2 L148.1 253.2 Z" fill="#d6d6d6" stroke="none"/>
<path d="M148.1 248.3 L149.1 247.6 L150.5 247.1 L151.7 248.3 L152.6 249.3 L153.6 247.9 L154.9 248.3 L156.3 248.3 L156.9 246.5 L157.8 248.0 L158.9 247.4 L160.5 246.7 L161.2 246.2 L162.3 244.0 L163.3 244.9 L164.2 243.4 L164.6 244.8 L165.6 241.9 L167.0 242.8 L167.6 240.9 L168.7 241.0 L169.6 239.4 L170.0 237.5 L171.1 238.2 L172.2 234.9 L172.9 235.6 L173.5 233.6 L174.5 232.6 L175.1 232.1 L176.0 232.4 L177.1 231.8 L177.9 229.2 L178.2 230.8 L179.2 229.2 L180.4 229.8 L181.2 228.0 L182.3 227.4 L183.5 227.1 L184.3 226.4 L185.6 227.7 L186.8 229.5 L187.7 229.9 L188.1 229.5 L189.1 233.1 L189.6 231.8 L190.5 234.3 L191.5 234.3 L191.9 235.6 L192.5 235.0 L192.9 238.4 L192.9 239.1 L193.4 241.4 L194.1 240.4 L194.8 243.1 L195.1 243.0 L195.8 245.2 L196.4 246.7 L197.2 245.9 L197.7 246.7 L198.5 248.7 L199.3 249.3 L200.5 250.4 L201.2 249.1 L202.4 249.8 L203.7 250.3 L204.6 250.7 L205.7 251.5 L207.2 251.3 L207.8 251.3 L209.6 252.0 L210.8 250.5 L212.0 251.3 L213.0 251.3 L214.1 251.0 L214.9 251.2 L216.0 249.7 L217.1 249.2 L218.4 249.8 L219.2 248.3 L220.2 248.5 L221.5 248.3 L222.9 248.3 L223.9 250.9 L224.7 251.0 L226.0 250.6 L227.1 252.1 L228.6 251.7 L229.6 251.5 L230.6 252.1 L232.2 252.3 L233.2 252.5 L234.6 252.5 L235.6 251.8 L236.8 252.6 L237.9 252.6 L238.9 252.7 L240.0 251.9 L241.3 252.4 L242.1 252.8 L243.4 252.8 L244.8 252.1 L245.9 252.9" fill="none" stroke="#141414" stroke-width="1.12" stroke-linejoin="round"/>
<path d="M148.1 243.0 L148.8 243.7 L149.4 242.7 L150.3 241.9 L151.1 238.9 L151.8 239.9 L152.8 237.7 L153.3 235.5 L154.6 236.5 L155.6 235.1 L156.6 235.0 L157.4 233.7 L158.1 233.5 L159.1 232.5 L159.7 232.0 L160.2 230.0 L160.5 228.0 L161.3 228.6 L161.8 228.3 L163.0 227.3 L163.4 225.0 L163.9 225.6 L164.9 223.3 L165.4 222.5 L166.1 219.5 L166.6 219.9 L167.6 218.7 L169.0 217.7 L170.0 216.1 L170.8 216.6 L171.2 214.7 L171.6 213.0 L171.5 213.8 L171.8 211.5 L172.2 210.8 L172.5 212.0 L172.3 213.6 L173.2 215.0 L172.9 214.9 L173.5 216.6 L173.5 217.6 L173.6 218.6 L174.2 219.0 L174.5 220.6 L174.3 222.7 L175.0 222.9 L175.2 226.0 L175.0 224.2 L175.2 228.4 L175.6 228.2 L175.7 229.5 L176.0 230.9 L176.5 232.8 L176.5 232.6 L176.9 232.4 L176.7 235.0 L177.1 234.8 L177.5 237.1 L178.0 239.1 L177.7 238.6 L178.2 240.9 L178.6 241.8 L179.4 244.2 L179.7 244.8 L179.7 246.5 L180.3 246.5 L180.7 247.1 L181.3 249.3 L182.2 249.4 L182.8 250.5 L183.7 252.2 L184.5 252.3 L185.8 251.9 L186.8 251.5 L187.9 251.5 L189.3 252.3 L190.6 252.4 L191.4 251.6 L193.3 251.6 L194.3 251.1 L195.3 251.1 L196.4 252.4 L197.8 251.1 L198.9 252.4 L200.2 252.5 L201.0 251.2 L202.6 252.5 L203.8 251.7 L205.2 251.2 L206.5 251.7 L207.2 251.7 L208.3 251.7 L209.8 252.5 L210.7 251.8 L211.9 252.6 L213.4 251.8 L214.7 252.2 L215.9 252.6 L217.2 251.3 L218.0 252.6 L219.3 252.6 L220.3 252.7 L221.5 251.4 L222.7 251.9 L224.2 252.7 L225.1 252.3 L226.9 252.7 L228.0 251.9 L229.0 252.7 L230.1 251.9 L231.1 252.8 L232.9 252.0 L233.5 252.8 L234.9 252.4 L236.1 252.0 L237.8 252.4 L238.5 252.8 L240.0 252.4 L240.9 252.1 L242.2 252.9 L243.5 251.6 L244.4 252.9 L245.9 252.9" fill="none" stroke="#141414" stroke-width="1.12" stroke-linejoin="round"/>
<rect x="146.6" y="212.3" width="1.5" height="40.9" fill="#111"/>
<path d="M42.0 326.0 L43.0 325.8 L43.9 325.6 L45.3 326.0 L46.4 325.0 L47.6 325.6 L48.8 324.8 L50.4 324.8 L51.6 324.1 L52.5 324.0 L53.7 323.5 L55.1 323.3 L56.0 322.4 L57.5 320.5 L58.1 320.2 L59.4 320.1 L60.1 318.1 L60.8 319.0 L61.7 316.8 L62.1 315.0 L62.8 313.9 L63.6 313.8 L64.5 313.4 L65.3 311.4 L66.4 310.2 L67.3 311.0 L67.8 309.5 L68.4 310.1 L69.2 307.2 L69.3 306.5 L69.6 305.3 L70.5 305.1 L71.2 301.8 L71.7 303.0 L72.0 301.1 L72.5 298.3 L72.4 297.5 L73.2 298.3 L73.2 297.3 L74.1 294.2 L74.4 292.6 L74.7 293.9 L75.0 290.6 L75.2 290.5 L75.3 288.0 L75.6 289.3 L76.2 286.6 L76.3 285.8 L76.7 285.2 L76.5 285.2 L77.1 282.1 L77.4 282.0 L77.6 278.6 L78.0 279.0 L78.2 277.6 L78.0 275.5 L78.4 275.7 L78.8 273.8 L79.1 272.5 L79.4 272.0 L79.8 271.0 L80.1 269.0 L80.4 269.2 L80.6 269.4 L80.9 266.8 L81.2 267.0 L81.8 269.1 L81.8 270.8 L81.8 272.8 L82.4 273.4 L82.6 273.6 L83.1 276.1 L83.1 276.2 L83.3 278.7 L83.2 276.6 L83.4 280.3 L83.7 281.9 L84.3 282.5 L83.9 283.2 L84.2 284.1 L84.5 286.7 L84.7 286.3 L84.9 287.0 L85.3 289.4 L85.2 290.3 L85.1 291.7 L85.7 292.9 L85.6 294.5 L86.1 293.7 L86.0 297.1 L85.9 296.1 L86.1 299.3 L86.8 298.8 L86.5 299.7 L86.8 300.6 L86.9 303.2 L87.2 303.1 L87.3 305.5 L87.1 307.4 L87.4 308.5 L88.0 309.5 L88.2 308.9 L88.1 311.6 L88.2 312.9 L88.9 313.3 L88.6 315.3 L89.0 315.9 L89.7 318.6 L89.7 317.7 L90.0 319.7 L90.5 320.1 L91.1 322.2 L91.5 321.3 L92.1 323.3 L92.9 324.8 L94.3 324.6 L95.4 325.0 L96.4 326.0 L97.2 326.1 L98.5 325.8 L99.8 325.0 L101.2 325.2 L102.4 326.6 L103.5 326.3 L104.6 326.0 L105.9 326.9 L107.4 326.9 L108.2 325.6 L109.8 326.1 L110.8 325.7 L111.7 325.7 L113.3 326.9 L114.5 326.9 L115.4 326.9 L117.0 326.9 L118.1 326.2 L118.9 325.7 L120.5 325.8 L121.6 325.8 L122.5 326.7 L123.8 326.9 L124.8 326.9 L126.5 326.9 L127.3 326.9 L128.4 326.9 L130.2 325.9 L131.0 325.9 L132.6 326.9 L133.4 326.8 L134.5 325.9 L136.0 326.9 L136.8 325.9 L138.1 326.0 L139.5 326.9 L140.4 326.9 L141.9 327.3 L141.9 326.9 L42.0 326.9 Z" fill="#d6d6d6" stroke="none"/>
<path d="M42.0 326.0 L43.0 325.8 L43.9 325.6 L45.3 326.0 L46.4 325.0 L47.6 325.6 L48.8 324.8 L50.4 324.8 L51.6 324.1 L52.5 324.0 L53.7 323.5 L55.1 323.3 L56.0 322.4 L57.5 320.5 L58.1 320.2 L59.4 320.1 L60.1 318.1 L60.8 319.0 L61.7 316.8 L62.1 315.0 L62.8 313.9 L63.6 313.8 L64.5 313.4 L65.3 311.4 L66.4 310.2 L67.3 311.0 L67.8 309.5 L68.4 310.1 L69.2 307.2 L69.3 306.5 L69.6 305.3 L70.5 305.1 L71.2 301.8 L71.7 303.0 L72.0 301.1 L72.5 298.3 L72.4 297.5 L73.2 298.3 L73.2 297.3 L74.1 294.2 L74.4 292.6 L74.7 293.9 L75.0 290.6 L75.2 290.5 L75.3 288.0 L75.6 289.3 L76.2 286.6 L76.3 285.8 L76.7 285.2 L76.5 285.2 L77.1 282.1 L77.4 282.0 L77.6 278.6 L78.0 279.0 L78.2 277.6 L78.0 275.5 L78.4 275.7 L78.8 273.8 L79.1 272.5 L79.4 272.0 L79.8 271.0 L80.1 269.0 L80.4 269.2 L80.6 269.4 L80.9 266.8 L81.2 267.0 L81.8 269.1 L81.8 270.8 L81.8 272.8 L82.4 273.4 L82.6 273.6 L83.1 276.1 L83.1 276.2 L83.3 278.7 L83.2 276.6 L83.4 280.3 L83.7 281.9 L84.3 282.5 L83.9 283.2 L84.2 284.1 L84.5 286.7 L84.7 286.3 L84.9 287.0 L85.3 289.4 L85.2 290.3 L85.1 291.7 L85.7 292.9 L85.6 294.5 L86.1 293.7 L86.0 297.1 L85.9 296.1 L86.1 299.3 L86.8 298.8 L86.5 299.7 L86.8 300.6 L86.9 303.2 L87.2 303.1 L87.3 305.5 L87.1 307.4 L87.4 308.5 L88.0 309.5 L88.2 308.9 L88.1 311.6 L88.2 312.9 L88.9 313.3 L88.6 315.3 L89.0 315.9 L89.7 318.6 L89.7 317.7 L90.0 319.7 L90.5 320.1 L91.1 322.2 L91.5 321.3 L92.1 323.3 L92.9 324.8 L94.3 324.6 L95.4 325.0 L96.4 326.0 L97.2 326.1 L98.5 325.8 L99.8 325.0 L101.2 325.2 L102.4 326.6 L103.5 326.3 L104.6 326.0 L105.9 326.9 L107.4 326.9 L108.2 325.6 L109.8 326.1 L110.8 325.7 L111.7 325.7 L113.3 326.9 L114.5 326.9 L115.4 326.9 L117.0 326.9 L118.1 326.2 L118.9 325.7 L120.5 325.8 L121.6 325.8 L122.5 326.7 L123.8 326.9 L124.8 326.9 L126.5 326.9 L127.3 326.9 L128.4 326.9 L130.2 325.9 L131.0 325.9 L132.6 326.9 L133.4 326.8 L134.5 325.9 L136.0 326.9 L136.8 325.9 L138.1 326.0 L139.5 326.9 L140.4 326.9 L141.9 327.3" fill="none" stroke="#141414" stroke-width="1.12" stroke-linejoin="round"/>
<path d="M42.0 292.6 L42.1 292.3 L42.5 294.1 L42.8 294.7 L42.9 298.9 L42.9 299.0 L43.3 297.7 L44.0 297.4 L44.5 295.8 L44.8 294.3 L45.4 293.2 L46.0 293.3 L46.0 289.9 L46.5 289.7 L46.7 288.2 L47.2 286.1 L47.7 286.3 L48.4 285.0 L48.8 285.3 L49.2 284.3 L49.5 281.9 L49.8 278.8 L50.0 279.5 L50.8 278.1 L50.9 276.7 L51.7 277.7 L52.2 278.2 L53.0 279.9 L53.7 280.2 L55.1 277.8 L55.6 278.0 L55.5 280.1 L56.1 282.0 L56.4 283.0 L56.9 284.1 L57.2 285.2 L57.2 286.0 L58.0 286.5 L57.8 288.9 L58.1 291.2 L58.6 289.8 L58.8 291.5 L58.9 293.7 L59.4 294.7 L59.3 296.1 L59.8 297.1 L59.9 296.7 L60.1 297.9 L60.4 301.7 L60.7 302.4 L61.1 301.5 L60.6 304.7 L61.0 306.2 L61.6 305.1 L61.5 307.4 L61.9 308.8 L62.2 308.5 L62.0 309.4 L62.1 311.7 L62.5 313.6 L63.0 313.8 L63.4 315.4 L63.6 317.2 L63.6 318.0 L64.4 319.3 L64.4 321.3 L65.1 322.0 L65.9 323.1 L66.0 324.3 L66.8 324.8 L67.8 325.5 L69.2 325.4 L69.9 326.9 L71.1 325.6 L72.2 326.1 L73.5 326.9 L74.4 326.1 L75.7 325.6 L76.9 326.9 L78.0 326.5 L79.5 326.2 L80.7 326.9 L82.1 326.9 L82.9 326.9 L84.6 326.9 L85.4 325.7 L86.8 326.9 L87.9 326.9 L89.3 325.7 L90.6 326.9 L91.2 326.9 L92.7 326.9 L94.2 326.6 L94.8 326.9 L96.5 326.2 L97.6 325.8 L99.0 326.7 L100.1 325.8 L100.9 326.7 L102.3 326.3 L103.4 326.9 L104.6 326.9 L106.0 326.9 L106.9 326.9 L108.5 326.9 L109.6 326.9 L111.0 326.7 L111.6 326.9 L113.1 326.3 L114.0 326.9 L115.8 326.8 L116.4 326.4 L118.1 326.9 L118.9 326.9 L120.0 326.9 L121.4 326.9 L122.7 326.4 L124.2 326.9 L125.4 326.9 L126.6 326.9 L127.6 326.8 L128.4 325.9 L130.1 326.9 L131.4 326.9 L132.4 326.9 L133.8 326.9 L134.9 326.9 L136.1 326.5 L137.0 326.9 L138.5 326.5 L139.2 326.9 L140.8 326.9 L141.9 327.3" fill="none" stroke="#141414" stroke-width="1.12" stroke-linejoin="round"/>
<rect x="40.6" y="281.0" width="1.5" height="45.9" fill="#111"/>
<path d="M148.1 324.3 L149.2 324.4 L150.3 323.1 L151.3 323.1 L151.7 321.0 L152.8 321.2 L153.8 321.4 L154.5 319.1 L155.8 319.5 L156.1 318.0 L157.0 317.5 L158.1 315.9 L158.8 315.1 L159.0 315.4 L160.3 311.7 L160.4 311.9 L161.2 310.6 L161.6 308.9 L162.1 309.8 L162.7 307.8 L162.7 307.0 L163.5 303.6 L163.8 303.6 L163.8 302.7 L164.4 301.1 L164.3 298.3 L165.1 298.6 L165.1 296.8 L165.2 295.0 L165.3 293.7 L165.5 292.5 L166.1 293.9 L165.9 292.4 L166.5 290.5 L166.9 288.5 L167.0 286.4 L167.3 285.3 L167.4 286.9 L168.1 284.4 L168.1 284.2 L168.6 282.0 L169.3 282.2 L169.6 278.5 L170.3 279.8 L170.7 277.4 L170.6 278.0 L171.5 275.0 L171.8 274.6 L172.7 273.1 L173.9 273.6 L174.6 272.1 L174.8 272.1 L175.6 273.4 L176.0 276.7 L176.5 276.2 L177.1 277.8 L177.6 279.6 L178.0 278.9 L177.8 281.5 L178.5 282.8 L178.2 283.5 L179.0 285.2 L179.3 286.1 L179.3 287.2 L179.6 288.3 L180.0 288.5 L180.3 290.5 L180.8 290.3 L180.6 294.4 L181.0 294.4 L181.7 296.7 L181.4 296.6 L181.7 297.5 L182.0 299.4 L182.6 300.0 L183.0 302.1 L183.2 303.1 L183.1 303.2 L183.5 304.2 L183.8 306.1 L183.9 307.8 L184.7 309.1 L184.5 308.5 L184.7 311.0 L185.0 311.8 L186.0 313.4 L185.9 314.2 L186.2 313.8 L186.6 315.9 L187.0 318.3 L187.8 318.5 L187.6 317.6 L188.2 320.7 L188.8 320.8 L189.2 322.1 L189.8 323.3 L190.9 324.9 L192.1 325.8 L193.0 326.0 L194.5 325.7 L195.7 326.3 L196.8 326.4 L197.5 326.5 L199.0 326.6 L200.0 326.8 L201.4 326.9 L202.7 325.6 L203.6 326.5 L205.3 326.9 L206.5 326.9 L207.3 325.7 L208.4 326.6 L210.2 326.9 L211.2 326.9 L212.0 326.9 L213.2 326.9 L214.4 326.9 L215.7 325.7 L217.0 326.9 L218.0 326.7 L219.5 326.9 L220.8 325.8 L222.2 326.9 L223.1 326.9 L224.5 326.9 L225.1 325.8 L226.7 326.9 L227.9 326.9 L228.8 325.8 L229.9 326.9 L231.2 326.9 L232.4 326.9 L234.2 326.8 L235.0 326.4 L236.1 326.9 L237.2 326.4 L238.7 325.9 L239.9 326.9 L241.4 326.9 L242.2 326.9 L243.7 326.9 L244.9 326.9 L245.9 327.3 L245.9 326.9 L148.1 326.9 Z" fill="#d6d6d6" stroke="none"/>
<path d="M148.1 324.3 L149.2 324.4 L150.3 323.1 L151.3 323.1 L151.7 321.0 L152.8 321.2 L153.8 321.4 L154.5 319.1 L155.8 319.5 L156.1 318.0 L157.0 317.5 L158.1 315.9 L158.8 315.1 L159.0 315.4 L160.3 311.7 L160.4 311.9 L161.2 310.6 L161.6 308.9 L162.1 309.8 L162.7 307.8 L162.7 307.0 L163.5 303.6 L163.8 303.6 L163.8 302.7 L164.4 301.1 L164.3 298.3 L165.1 298.6 L165.1 296.8 L165.2 295.0 L165.3 293.7 L165.5 292.5 L166.1 293.9 L165.9 292.4 L166.5 290.5 L166.9 288.5 L167.0 286.4 L167.3 285.3 L167.4 286.9 L168.1 284.4 L168.1 284.2 L168.6 282.0 L169.3 282.2 L169.6 278.5 L170.3 279.8 L170.7 277.4 L170.6 278.0 L171.5 275.0 L171.8 274.6 L172.7 273.1 L173.9 273.6 L174.6 272.1 L174.8 272.1 L175.6 273.4 L176.0 276.7 L176.5 276.2 L177.1 277.8 L177.6 279.6 L178.0 278.9 L177.8 281.5 L178.5 282.8 L178.2 283.5 L179.0 285.2 L179.3 286.1 L179.3 287.2 L179.6 288.3 L180.0 288.5 L180.3 290.5 L180.8 290.3 L180.6 294.4 L181.0 294.4 L181.7 296.7 L181.4 296.6 L181.7 297.5 L182.0 299.4 L182.6 300.0 L183.0 302.1 L183.2 303.1 L183.1 303.2 L183.5 304.2 L183.8 306.1 L183.9 307.8 L184.7 309.1 L184.5 308.5 L184.7 311.0 L185.0 311.8 L186.0 313.4 L185.9 314.2 L186.2 313.8 L186.6 315.9 L187.0 318.3 L187.8 318.5 L187.6 317.6 L188.2 320.7 L188.8 320.8 L189.2 322.1 L189.8 323.3 L190.9 324.9 L192.1 325.8 L193.0 326.0 L194.5 325.7 L195.7 326.3 L196.8 326.4 L197.5 326.5 L199.0 326.6 L200.0 326.8 L201.4 326.9 L202.7 325.6 L203.6 326.5 L205.3 326.9 L206.5 326.9 L207.3 325.7 L208.4 326.6 L210.2 326.9 L211.2 326.9 L212.0 326.9 L213.2 326.9 L214.4 326.9 L215.7 325.7 L217.0 326.9 L218.0 326.7 L219.5 326.9 L220.8 325.8 L222.2 326.9 L223.1 326.9 L224.5 326.9 L225.1 325.8 L226.7 326.9 L227.9 326.9 L228.8 325.8 L229.9 326.9 L231.2 326.9 L232.4 326.9 L234.2 326.8 L235.0 326.4 L236.1 326.9 L237.2 326.4 L238.7 325.9 L239.9 326.9 L241.4 326.9 L242.2 326.9 L243.7 326.9 L244.9 326.9 L245.9 327.3" fill="none" stroke="#141414" stroke-width="1.12" stroke-linejoin="round"/>
<path d="M148.1 296.8 L148.4 295.0 L148.8 293.9 L149.6 293.7 L150.2 293.2 L150.7 295.8 L151.1 294.4 L151.1 293.2 L151.9 293.2 L152.1 291.7 L152.8 291.1 L152.8 289.4 L153.3 289.4 L153.4 286.6 L154.2 285.4 L154.1 284.1 L154.3 282.9 L154.9 282.0 L155.4 282.6 L156.8 280.3 L157.4 278.0 L158.1 277.8 L159.0 277.2 L160.2 277.4 L160.6 277.3 L161.7 280.4 L161.9 281.5 L162.9 281.0 L163.0 282.8 L163.3 283.9 L163.8 283.9 L163.8 284.1 L163.8 288.1 L164.4 288.4 L164.3 288.4 L164.4 290.5 L164.5 292.5 L164.7 293.6 L165.0 294.1 L164.9 295.8 L165.3 296.8 L165.5 296.6 L165.9 297.9 L165.9 299.8 L165.9 301.1 L166.1 302.4 L166.1 302.5 L166.6 306.1 L166.9 305.9 L166.9 308.1 L167.5 307.1 L167.6 309.2 L168.0 311.6 L168.0 311.7 L168.0 314.2 L168.8 313.7 L168.6 316.4 L169.0 315.3 L169.4 316.3 L169.8 319.9 L170.1 320.1 L170.4 320.9 L171.6 321.7 L171.7 323.3 L172.5 323.8 L172.9 324.8 L173.7 325.6 L174.7 324.3 L176.1 325.7 L177.1 326.5 L178.4 326.6 L179.5 325.8 L180.6 326.3 L181.8 326.0 L183.1 326.0 L184.5 326.9 L185.5 326.1 L186.9 325.6 L187.9 326.9 L189.5 326.9 L190.5 326.9 L192.0 326.5 L192.7 326.9 L194.2 326.9 L195.6 326.9 L196.5 325.7 L197.4 326.9 L199.3 326.9 L200.3 326.6 L201.3 326.9 L202.8 326.6 L204.1 326.9 L205.3 326.9 L206.2 325.7 L207.5 326.9 L208.8 326.9 L210.0 326.9 L210.9 326.7 L212.2 326.7 L213.6 325.8 L214.3 326.9 L215.8 326.3 L217.1 326.7 L218.2 326.7 L219.2 326.7 L220.6 326.9 L221.6 326.7 L223.1 326.9 L224.0 325.9 L225.1 326.4 L226.5 325.9 L228.0 326.9 L228.8 326.8 L230.5 326.9 L231.7 326.4 L232.7 326.9 L233.9 326.9 L235.3 326.9 L236.4 326.9 L237.7 326.8 L238.8 326.5 L240.1 326.9 L241.4 326.9 L242.5 326.9 L243.4 326.9 L244.7 326.9 L245.9 327.3" fill="none" stroke="#141414" stroke-width="1.12" stroke-linejoin="round"/>
<rect x="146.6" y="278.9" width="1.5" height="48.0" fill="#111"/>
<path d="M42.0 402.3 L43.0 402.3 L44.2 401.5 L45.3 402.3 L46.6 401.9 L48.1 402.2 L49.5 401.4 L50.1 400.9 L51.4 402.2 L53.0 401.8 L53.9 401.4 L55.0 402.2 L56.5 402.2 L57.9 402.1 L58.8 400.8 L59.8 401.3 L61.0 402.1 L62.5 400.8 L63.8 402.1 L64.9 402.1 L66.4 401.7 L66.9 402.0 L68.7 402.0 L69.5 402.0 L71.1 402.0 L72.2 401.2 L73.6 401.6 L74.3 401.6 L75.4 402.0 L77.1 401.5 L77.8 401.9 L79.5 401.9 L80.5 401.9 L81.6 401.3 L83.1 400.2 L84.3 401.4 L85.7 401.4 L86.9 401.0 L87.7 400.2 L88.8 400.7 L89.8 400.4 L90.8 398.4 L92.5 399.4 L93.2 398.3 L94.4 397.4 L95.6 396.3 L96.1 396.7 L97.5 394.1 L98.7 393.3 L99.5 394.1 L100.0 392.5 L100.8 392.6 L101.4 391.7 L102.2 392.0 L102.8 390.8 L103.8 388.8 L104.5 388.8 L104.2 386.3 L104.9 385.2 L105.2 383.6 L105.5 382.1 L105.9 382.4 L106.0 381.9 L106.0 380.5 L106.2 379.8 L106.9 378.9 L106.8 377.7 L106.8 374.3 L107.1 374.6 L107.0 374.0 L107.7 371.2 L107.7 370.4 L107.6 367.4 L108.0 367.6 L108.5 365.6 L108.2 366.3 L108.2 365.3 L109.0 363.0 L109.2 360.9 L108.7 360.7 L109.2 358.4 L109.6 356.9 L109.8 355.4 L109.4 354.6 L109.6 354.2 L110.1 352.8 L110.7 351.7 L110.9 350.6 L111.4 349.0 L111.7 348.6 L112.0 350.0 L112.2 351.3 L112.4 353.2 L112.7 354.9 L112.7 356.6 L113.4 356.2 L113.6 357.9 L113.5 360.9 L113.5 359.6 L113.7 363.3 L114.2 363.2 L114.4 364.4 L114.7 364.2 L115.1 365.4 L115.4 367.6 L115.7 367.6 L115.9 368.7 L116.5 370.8 L117.6 369.6 L118.2 370.1 L118.7 371.3 L118.9 370.8 L119.0 373.5 L119.1 375.0 L119.4 375.0 L119.2 375.9 L119.6 378.2 L119.8 377.8 L119.9 380.6 L120.0 383.1 L120.4 383.2 L121.0 384.4 L120.8 386.0 L121.4 385.6 L121.2 389.3 L121.8 388.8 L122.5 390.3 L122.7 392.0 L123.3 393.0 L123.5 394.4 L124.3 395.5 L124.9 395.1 L125.7 395.3 L127.2 395.4 L127.9 397.2 L129.2 397.2 L129.6 395.9 L130.4 394.6 L131.3 394.7 L132.5 394.9 L133.0 396.2 L134.0 396.7 L134.5 394.1 L134.8 395.1 L135.5 397.0 L135.6 397.9 L135.9 398.3 L136.4 398.8 L137.0 401.0 L137.3 401.4 L137.6 402.5 L138.7 402.5 L139.9 402.2 L140.8 401.3 L141.9 402.6 L141.9 402.7 L42.0 402.7 Z" fill="#d6d6d6" stroke="none"/>
<path d="M42.0 402.3 L43.0 402.3 L44.2 401.5 L45.3 402.3 L46.6 401.9 L48.1 402.2 L49.5 401.4 L50.1 400.9 L51.4 402.2 L53.0 401.8 L53.9 401.4 L55.0 402.2 L56.5 402.2 L57.9 402.1 L58.8 400.8 L59.8 401.3 L61.0 402.1 L62.5 400.8 L63.8 402.1 L64.9 402.1 L66.4 401.7 L66.9 402.0 L68.7 402.0 L69.5 402.0 L71.1 402.0 L72.2 401.2 L73.6 401.6 L74.3 401.6 L75.4 402.0 L77.1 401.5 L77.8 401.9 L79.5 401.9 L80.5 401.9 L81.6 401.3 L83.1 400.2 L84.3 401.4 L85.7 401.4 L86.9 401.0 L87.7 400.2 L88.8 400.7 L89.8 400.4 L90.8 398.4 L92.5 399.4 L93.2 398.3 L94.4 397.4 L95.6 396.3 L96.1 396.7 L97.5 394.1 L98.7 393.3 L99.5 394.1 L100.0 392.5 L100.8 392.6 L101.4 391.7 L102.2 392.0 L102.8 390.8 L103.8 388.8 L104.5 388.8 L104.2 386.3 L104.9 385.2 L105.2 383.6 L105.5 382.1 L105.9 382.4 L106.0 381.9 L106.0 380.5 L106.2 379.8 L106.9 378.9 L106.8 377.7 L106.8 374.3 L107.1 374.6 L107.0 374.0 L107.7 371.2 L107.7 370.4 L107.6 367.4 L108.0 367.6 L108.5 365.6 L108.2 366.3 L108.2 365.3 L109.0 363.0 L109.2 360.9 L108.7 360.7 L109.2 358.4 L109.6 356.9 L109.8 355.4 L109.4 354.6 L109.6 354.2 L110.1 352.8 L110.7 351.7 L110.9 350.6 L111.4 349.0 L111.7 348.6 L112.0 350.0 L112.2 351.3 L112.4 353.2 L112.7 354.9 L112.7 356.6 L113.4 356.2 L113.6 357.9 L113.5 360.9 L113.5 359.6 L113.7 363.3 L114.2 363.2 L114.4 364.4 L114.7 364.2 L115.1 365.4 L115.4 367.6 L115.7 367.6 L115.9 368.7 L116.5 370.8 L117.6 369.6 L118.2 370.1 L118.7 371.3 L118.9 370.8 L119.0 373.5 L119.1 375.0 L119.4 375.0 L119.2 375.9 L119.6 378.2 L119.8 377.8 L119.9 380.6 L120.0 383.1 L120.4 383.2 L121.0 384.4 L120.8 386.0 L121.4 385.6 L121.2 389.3 L121.8 388.8 L122.5 390.3 L122.7 392.0 L123.3 393.0 L123.5 394.4 L124.3 395.5 L124.9 395.1 L125.7 395.3 L127.2 395.4 L127.9 397.2 L129.2 397.2 L129.6 395.9 L130.4 394.6 L131.3 394.7 L132.5 394.9 L133.0 396.2 L134.0 396.7 L134.5 394.1 L134.8 395.1 L135.5 397.0 L135.6 397.9 L135.9 398.3 L136.4 398.8 L137.0 401.0 L137.3 401.4 L137.6 402.5 L138.7 402.5 L139.9 402.2 L140.8 401.3 L141.9 402.6" fill="none" stroke="#141414" stroke-width="1.12" stroke-linejoin="round"/>
<path d="M42.0 393.0 L43.3 391.7 L44.0 391.3 L45.7 391.3 L46.7 390.9 L47.3 390.8 L48.6 389.1 L49.4 390.2 L50.3 388.9 L51.2 387.8 L52.0 386.6 L53.1 384.3 L53.9 385.9 L54.4 385.2 L55.5 383.4 L56.4 383.6 L57.2 381.4 L58.2 381.8 L58.7 377.7 L59.4 377.8 L60.0 378.1 L61.1 375.7 L61.5 375.0 L62.3 373.0 L62.9 373.9 L63.3 373.2 L63.9 370.1 L65.0 370.1 L65.3 368.7 L66.1 370.7 L66.8 369.8 L67.8 370.8 L68.7 369.0 L69.5 369.7 L69.9 369.3 L70.2 371.7 L71.3 372.3 L71.8 372.9 L72.0 375.0 L72.3 375.8 L72.4 376.4 L72.9 378.9 L73.2 381.0 L73.4 380.2 L73.8 380.8 L74.5 384.2 L74.4 385.8 L75.1 384.8 L75.2 386.6 L75.6 388.8 L76.2 390.2 L75.9 389.8 L76.3 392.5 L77.0 391.6 L77.5 394.2 L78.0 395.4 L78.2 396.7 L78.4 397.2 L78.7 398.7 L79.3 400.0 L80.0 400.6 L80.5 401.9 L81.7 401.9 L82.8 401.9 L84.3 400.6 L85.2 400.7 L86.7 401.2 L88.0 402.0 L88.9 401.6 L90.5 400.7 L91.6 402.0 L92.3 400.7 L93.7 401.7 L95.2 401.3 L96.2 400.8 L97.0 401.7 L98.5 402.1 L100.1 402.1 L100.7 402.1 L102.5 401.3 L103.1 401.4 L104.3 401.8 L105.9 401.4 L107.1 402.2 L108.0 402.2 L109.1 401.4 L110.9 401.4 L111.5 401.0 L113.1 401.0 L114.5 401.9 L115.3 401.0 L116.5 402.3 L117.8 401.5 L119.2 402.3 L120.5 402.4 L121.4 402.4 L122.4 402.4 L123.9 401.1 L124.9 401.1 L126.3 402.4 L127.6 402.0 L129.0 402.4 L129.7 402.5 L130.9 402.1 L132.6 402.5 L133.2 402.1 L134.6 402.5 L135.8 402.5 L136.9 402.1 L138.6 402.6 L139.5 401.8 L140.8 402.2 L141.9 402.6" fill="none" stroke="#141414" stroke-width="1.12" stroke-linejoin="round"/>
<rect x="40.6" y="362.3" width="1.5" height="40.4" fill="#111"/>
<path d="M148.1 402.3 L149.0 402.3 L150.7 402.2 L151.9 401.8 L152.9 400.9 L154.0 402.1 L155.5 402.1 L156.6 401.7 L158.1 402.0 L158.9 402.0 L159.9 401.9 L161.5 400.6 L162.7 401.9 L163.7 401.8 L165.4 401.8 L166.0 401.0 L167.6 400.9 L169.0 401.3 L169.7 400.4 L170.9 401.6 L172.7 401.6 L173.8 400.3 L175.0 401.5 L176.2 401.1 L177.5 400.2 L178.4 401.0 L179.5 401.4 L181.0 401.4 L182.1 401.3 L183.2 400.5 L184.2 401.2 L185.8 401.2 L186.6 401.8 L188.2 400.4 L189.3 400.7 L190.7 400.6 L191.9 401.5 L193.0 401.0 L193.8 401.0 L195.4 399.4 L195.9 398.9 L196.9 398.4 L198.3 398.3 L199.4 398.6 L199.8 396.3 L201.1 396.2 L201.9 394.6 L202.5 394.1 L203.8 394.1 L204.6 393.0 L205.7 391.9 L207.0 391.6 L207.7 389.9 L208.8 389.8 L209.5 389.0 L209.4 386.3 L209.9 386.7 L210.4 387.1 L211.3 384.4 L211.5 383.3 L212.0 382.4 L212.3 382.9 L212.1 380.4 L212.6 379.1 L212.6 377.7 L213.3 378.1 L213.0 375.6 L213.6 374.5 L213.9 372.4 L213.9 372.3 L213.7 369.9 L214.1 369.7 L214.1 369.6 L214.8 367.0 L214.4 365.5 L214.8 363.8 L215.0 365.6 L215.6 363.4 L215.4 360.2 L215.8 360.7 L216.0 358.6 L216.1 358.6 L216.6 358.8 L216.3 356.4 L216.7 354.9 L216.7 354.1 L217.4 351.3 L217.8 349.8 L218.0 348.3 L218.3 349.7 L218.4 347.5 L218.4 349.7 L219.0 350.8 L219.2 350.5 L219.4 350.8 L219.1 354.1 L219.6 354.9 L219.7 355.6 L220.1 358.4 L220.2 359.3 L220.4 359.8 L220.4 361.0 L220.5 361.4 L221.1 363.9 L220.8 364.0 L221.5 366.2 L221.5 366.6 L222.1 367.3 L222.4 368.5 L222.1 370.2 L222.6 370.8 L223.3 374.0 L223.3 375.0 L223.6 375.0 L224.6 373.4 L225.8 373.5 L226.1 374.1 L226.1 377.3 L226.7 376.1 L226.9 378.1 L226.7 379.9 L227.2 380.3 L227.5 382.9 L227.6 381.5 L228.2 384.7 L228.7 383.6 L228.5 388.0 L228.9 388.5 L229.4 388.8 L230.2 390.1 L230.4 392.1 L231.0 392.2 L231.8 394.0 L232.1 394.1 L233.0 393.2 L234.5 395.1 L235.3 396.2 L236.6 395.8 L237.4 398.7 L238.5 398.3 L239.8 397.9 L240.6 397.2 L241.6 398.5 L242.0 399.5 L242.7 399.8 L243.7 401.1 L244.0 401.7 L244.8 402.6 L245.9 402.6 L245.9 402.7 L148.1 402.7 Z" fill="#d6d6d6" stroke="none"/>
<path d="M148.1 402.3 L149.0 402.3 L150.7 402.2 L151.9 401.8 L152.9 400.9 L154.0 402.1 L155.5 402.1 L156.6 401.7 L158.1 402.0 L158.9 402.0 L159.9 401.9 L161.5 400.6 L162.7 401.9 L163.7 401.8 L165.4 401.8 L166.0 401.0 L167.6 400.9 L169.0 401.3 L169.7 400.4 L170.9 401.6 L172.7 401.6 L173.8 400.3 L175.0 401.5 L176.2 401.1 L177.5 400.2 L178.4 401.0 L179.5 401.4 L181.0 401.4 L182.1 401.3 L183.2 400.5 L184.2 401.2 L185.8 401.2 L186.6 401.8 L188.2 400.4 L189.3 400.7 L190.7 400.6 L191.9 401.5 L193.0 401.0 L193.8 401.0 L195.4 399.4 L195.9 398.9 L196.9 398.4 L198.3 398.3 L199.4 398.6 L199.8 396.3 L201.1 396.2 L201.9 394.6 L202.5 394.1 L203.8 394.1 L204.6 393.0 L205.7 391.9 L207.0 391.6 L207.7 389.9 L208.8 389.8 L209.5 389.0 L209.4 386.3 L209.9 386.7 L210.4 387.1 L211.3 384.4 L211.5 383.3 L212.0 382.4 L212.3 382.9 L212.1 380.4 L212.6 379.1 L212.6 377.7 L213.3 378.1 L213.0 375.6 L213.6 374.5 L213.9 372.4 L213.9 372.3 L213.7 369.9 L214.1 369.7 L214.1 369.6 L214.8 367.0 L214.4 365.5 L214.8 363.8 L215.0 365.6 L215.6 363.4 L215.4 360.2 L215.8 360.7 L216.0 358.6 L216.1 358.6 L216.6 358.8 L216.3 356.4 L216.7 354.9 L216.7 354.1 L217.4 351.3 L217.8 349.8 L218.0 348.3 L218.3 349.7 L218.4 347.5 L218.4 349.7 L219.0 350.8 L219.2 350.5 L219.4 350.8 L219.1 354.1 L219.6 354.9 L219.7 355.6 L220.1 358.4 L220.2 359.3 L220.4 359.8 L220.4 361.0 L220.5 361.4 L221.1 363.9 L220.8 364.0 L221.5 366.2 L221.5 366.6 L222.1 367.3 L222.4 368.5 L222.1 370.2 L222.6 370.8 L223.3 374.0 L223.3 375.0 L223.6 375.0 L224.6 373.4 L225.8 373.5 L226.1 374.1 L226.1 377.3 L226.7 376.1 L226.9 378.1 L226.7 379.9 L227.2 380.3 L227.5 382.9 L227.6 381.5 L228.2 384.7 L228.7 383.6 L228.5 388.0 L228.9 388.5 L229.4 388.8 L230.2 390.1 L230.4 392.1 L231.0 392.2 L231.8 394.0 L232.1 394.1 L233.0 393.2 L234.5 395.1 L235.3 396.2 L236.6 395.8 L237.4 398.7 L238.5 398.3 L239.8 397.9 L240.6 397.2 L241.6 398.5 L242.0 399.5 L242.7 399.8 L243.7 401.1 L244.0 401.7 L244.8 402.6 L245.9 402.6" fill="none" stroke="#141414" stroke-width="1.12" stroke-linejoin="round"/>
<path d="M148.1 393.4 L149.4 393.6 L150.5 391.7 L151.5 392.8 L152.9 390.5 L153.8 391.3 L154.6 391.0 L156.3 389.2 L156.9 388.6 L158.3 389.9 L159.1 388.3 L160.3 388.0 L160.9 385.2 L162.5 387.6 L163.0 383.7 L164.4 384.5 L165.4 382.6 L165.9 381.6 L166.6 383.0 L167.0 382.0 L167.6 378.4 L168.6 378.6 L169.1 378.4 L170.3 378.1 L171.2 374.4 L171.8 374.4 L172.7 372.3 L173.7 371.1 L174.4 371.4 L175.6 373.6 L176.4 371.4 L177.1 374.0 L177.8 375.2 L178.1 376.1 L178.7 377.5 L178.7 376.8 L179.3 379.4 L179.9 380.3 L179.8 381.1 L180.1 383.5 L181.0 385.0 L180.7 384.9 L181.1 386.7 L181.3 387.1 L181.9 390.2 L181.8 389.2 L182.4 390.9 L183.1 392.9 L183.0 394.5 L183.6 394.1 L184.0 396.5 L185.0 397.2 L184.8 398.7 L185.6 399.3 L186.4 399.3 L187.7 401.1 L188.7 401.5 L189.7 400.6 L191.1 400.9 L191.7 401.2 L193.0 401.0 L194.4 401.6 L195.7 401.4 L196.8 401.6 L197.9 401.7 L199.2 401.9 L200.2 402.1 L201.6 401.7 L202.4 402.1 L203.8 402.1 L204.8 400.9 L206.5 402.2 L207.3 402.2 L208.4 402.2 L210.2 402.2 L211.1 400.9 L212.4 401.8 L213.3 402.2 L214.3 402.3 L215.5 401.5 L217.1 402.3 L218.5 402.3 L219.1 402.3 L220.9 402.3 L221.9 402.3 L222.7 402.4 L224.2 402.4 L225.4 402.4 L226.4 401.6 L227.6 402.0 L228.8 401.6 L230.3 401.1 L231.8 402.0 L232.8 401.7 L233.6 401.2 L234.9 402.5 L236.4 402.5 L237.6 402.1 L238.8 402.5 L240.0 401.7 L241.4 401.2 L242.5 402.6 L243.4 402.6 L244.4 402.6 L245.9 402.6" fill="none" stroke="#141414" stroke-width="1.12" stroke-linejoin="round"/>
<rect x="146.6" y="361.3" width="1.5" height="41.4" fill="#111"/>
<path d="M42.0 476.9 L43.3 476.8 L44.8 475.9 L45.8 475.3 L47.0 476.5 L47.8 475.6 L49.0 476.1 L50.6 476.5 L51.5 475.5 L53.0 476.0 L54.4 475.8 L55.4 475.8 L56.9 475.9 L58.1 474.9 L59.0 474.3 L60.1 474.9 L61.5 474.3 L62.8 474.8 L63.6 474.1 L64.4 472.3 L65.9 471.9 L66.5 470.6 L67.8 471.2 L68.4 469.8 L69.4 469.9 L69.6 467.1 L70.7 468.6 L71.1 466.1 L72.0 465.9 L72.4 463.3 L72.5 464.9 L72.9 461.9 L73.3 461.9 L73.8 459.9 L74.7 461.0 L74.8 458.0 L75.2 457.4 L75.5 455.1 L75.9 455.8 L76.5 452.7 L77.1 453.9 L77.4 450.3 L77.3 451.7 L78.3 449.6 L78.4 447.9 L79.2 447.7 L79.7 444.9 L79.7 443.9 L80.4 442.3 L80.9 442.2 L81.6 441.6 L82.4 440.4 L83.3 439.4 L83.8 439.1 L84.2 441.5 L85.0 442.6 L85.2 443.7 L85.5 446.3 L85.8 444.6 L86.3 446.5 L86.6 447.6 L87.1 448.2 L87.3 450.8 L87.9 452.1 L88.7 453.5 L88.7 455.7 L89.2 453.8 L89.7 454.8 L90.1 457.4 L90.6 457.1 L91.1 459.5 L91.9 460.5 L91.9 462.6 L92.8 463.7 L93.0 462.4 L93.4 465.8 L94.2 466.6 L94.8 466.1 L95.3 468.0 L96.2 469.3 L96.8 471.1 L97.1 471.2 L98.3 471.9 L98.5 472.8 L99.5 473.3 L100.5 473.7 L101.5 475.4 L102.7 475.4 L104.2 474.9 L105.3 476.1 L106.1 476.4 L107.9 476.0 L108.8 476.7 L110.1 476.9 L111.1 477.0 L112.6 477.0 L113.7 477.1 L114.5 476.4 L115.8 477.3 L116.8 476.0 L118.5 477.4 L119.0 477.5 L120.5 477.6 L121.6 476.3 L122.8 477.7 L124.1 477.7 L125.0 477.8 L126.2 477.4 L127.4 477.4 L128.4 477.8 L129.9 477.8 L131.3 476.6 L132.3 477.1 L133.4 477.8 L134.5 477.8 L136.0 477.8 L137.2 477.7 L138.2 476.8 L139.3 477.8 L140.5 477.8 L141.9 478.2 L141.9 477.8 L42.0 477.8 Z" fill="#d6d6d6" stroke="none"/>
<path d="M42.0 476.9 L43.3 476.8 L44.8 475.9 L45.8 475.3 L47.0 476.5 L47.8 475.6 L49.0 476.1 L50.6 476.5 L51.5 475.5 L53.0 476.0 L54.4 475.8 L55.4 475.8 L56.9 475.9 L58.1 474.9 L59.0 474.3 L60.1 474.9 L61.5 474.3 L62.8 474.8 L63.6 474.1 L64.4 472.3 L65.9 471.9 L66.5 470.6 L67.8 471.2 L68.4 469.8 L69.4 469.9 L69.6 467.1 L70.7 468.6 L71.1 466.1 L72.0 465.9 L72.4 463.3 L72.5 464.9 L72.9 461.9 L73.3 461.9 L73.8 459.9 L74.7 461.0 L74.8 458.0 L75.2 457.4 L75.5 455.1 L75.9 455.8 L76.5 452.7 L77.1 453.9 L77.4 450.3 L77.3 451.7 L78.3 449.6 L78.4 447.9 L79.2 447.7 L79.7 444.9 L79.7 443.9 L80.4 442.3 L80.9 442.2 L81.6 441.6 L82.4 440.4 L83.3 439.4 L83.8 439.1 L84.2 441.5 L85.0 442.6 L85.2 443.7 L85.5 446.3 L85.8 444.6 L86.3 446.5 L86.6 447.6 L87.1 448.2 L87.3 450.8 L87.9 452.1 L88.7 453.5 L88.7 455.7 L89.2 453.8 L89.7 454.8 L90.1 457.4 L90.6 457.1 L91.1 459.5 L91.9 460.5 L91.9 462.6 L92.8 463.7 L93.0 462.4 L93.4 465.8 L94.2 466.6 L94.8 466.1 L95.3 468.0 L96.2 469.3 L96.8 471.1 L97.1 471.2 L98.3 471.9 L98.5 472.8 L99.5 473.3 L100.5 473.7 L101.5 475.4 L102.7 475.4 L104.2 474.9 L105.3 476.1 L106.1 476.4 L107.9 476.0 L108.8 476.7 L110.1 476.9 L111.1 477.0 L112.6 477.0 L113.7 477.1 L114.5 476.4 L115.8 477.3 L116.8 476.0 L118.5 477.4 L119.0 477.5 L120.5 477.6 L121.6 476.3 L122.8 477.7 L124.1 477.7 L125.0 477.8 L126.2 477.4 L127.4 477.4 L128.4 477.8 L129.9 477.8 L131.3 476.6 L132.3 477.1 L133.4 477.8 L134.5 477.8 L136.0 477.8 L137.2 477.7 L138.2 476.8 L139.3 477.8 L140.5 477.8 L141.9 478.2" fill="none" stroke="#141414" stroke-width="1.12" stroke-linejoin="round"/>
<path d="M42.0 470.1 L43.2 469.0 L43.6 470.1 L45.0 467.0 L45.7 465.6 L46.7 465.9 L47.8 463.6 L48.3 465.1 L49.2 463.5 L50.4 461.2 L51.3 463.1 L52.0 460.6 L52.6 458.3 L53.6 459.8 L53.6 459.2 L54.4 457.8 L55.0 454.7 L55.8 454.6 L56.7 454.7 L57.2 453.2 L57.7 452.4 L58.3 451.1 L58.7 450.6 L59.4 449.0 L60.0 447.7 L60.4 446.0 L61.0 445.8 L62.0 446.0 L62.2 444.2 L62.8 444.2 L63.6 441.6 L64.6 442.1 L65.3 440.5 L65.8 440.1 L66.0 441.6 L66.5 445.1 L67.2 444.2 L67.4 445.8 L68.0 448.6 L68.0 448.1 L68.8 451.0 L69.2 449.2 L69.1 451.9 L69.7 451.8 L69.9 454.2 L70.4 455.0 L70.5 456.2 L71.2 457.3 L71.5 459.5 L71.5 458.9 L71.9 462.7 L72.2 463.1 L72.5 463.8 L72.8 464.8 L73.2 466.3 L73.5 468.3 L74.2 469.7 L74.6 470.4 L74.5 470.7 L75.2 472.2 L75.9 473.6 L76.6 474.5 L77.7 475.0 L78.4 476.5 L79.4 476.8 L80.6 477.2 L81.6 477.5 L83.0 477.5 L84.0 476.7 L85.5 476.2 L86.1 476.8 L87.7 477.6 L89.0 477.2 L89.7 477.6 L91.5 477.6 L92.6 477.6 L93.4 477.6 L94.7 477.7 L96.3 476.4 L96.9 477.7 L98.2 477.7 L100.0 477.7 L100.9 477.7 L102.1 477.7 L103.2 477.8 L104.5 476.5 L105.6 477.8 L106.8 477.8 L107.8 477.8 L109.0 477.0 L110.3 477.8 L111.6 476.6 L113.0 477.1 L114.2 477.8 L115.6 477.1 L116.8 477.8 L117.7 477.5 L118.6 476.6 L120.4 477.8 L121.1 477.6 L122.4 477.2 L123.8 476.7 L125.2 477.6 L126.3 477.8 L127.4 476.7 L128.4 477.6 L130.1 477.8 L130.8 477.8 L132.2 476.8 L133.5 477.8 L134.7 477.3 L135.6 476.8 L137.2 477.8 L138.3 477.8 L139.6 477.8 L140.7 476.9 L141.9 478.2" fill="none" stroke="#141414" stroke-width="1.12" stroke-linejoin="round"/>
<rect x="40.6" y="440.5" width="1.5" height="37.3" fill="#111"/>
<path d="M148.1 476.9 L149.6 476.9 L150.9 476.8 L152.0 475.5 L152.7 476.7 L154.2 476.7 L155.7 476.6 L156.8 475.3 L158.1 475.2 L159.1 476.5 L160.2 475.9 L161.2 476.2 L162.5 475.7 L164.0 474.5 L165.5 474.3 L166.4 475.3 L167.6 474.3 L168.4 472.9 L169.7 472.9 L170.9 471.8 L172.0 471.6 L172.5 469.6 L173.9 470.1 L174.8 468.8 L175.8 467.5 L176.4 466.5 L177.6 466.5 L178.2 466.6 L179.2 464.8 L180.0 463.6 L180.4 464.2 L180.8 460.3 L181.2 461.1 L182.2 458.0 L182.2 459.9 L183.0 457.3 L183.5 456.4 L183.6 454.7 L184.5 455.1 L184.4 453.0 L184.8 451.8 L185.1 452.7 L186.0 449.3 L185.9 447.7 L186.6 447.9 L186.8 445.4 L187.7 445.9 L187.7 443.6 L188.3 444.6 L188.5 442.1 L189.2 441.6 L190.4 440.2 L190.9 440.5 L191.1 440.2 L191.9 443.4 L191.9 445.0 L192.4 446.3 L192.6 445.0 L193.0 446.8 L193.6 448.6 L193.6 447.7 L193.9 451.5 L194.4 452.1 L194.8 451.3 L195.7 453.1 L196.0 453.0 L196.1 455.3 L196.4 455.8 L197.1 458.3 L197.7 457.4 L198.5 460.6 L198.4 460.9 L199.4 462.6 L200.2 464.1 L200.4 463.8 L201.3 464.3 L201.6 467.0 L202.4 466.5 L203.1 467.5 L203.7 467.7 L204.6 470.1 L205.4 472.2 L206.6 472.2 L206.9 473.3 L208.2 474.4 L208.8 474.3 L210.0 475.7 L211.1 475.6 L212.1 475.2 L213.3 475.9 L214.1 476.5 L215.1 476.6 L216.3 475.4 L217.5 476.8 L219.0 476.9 L220.1 477.0 L221.3 475.7 L222.3 476.3 L223.5 477.2 L224.8 476.5 L225.6 477.4 L226.8 477.5 L228.2 477.1 L229.3 477.6 L230.2 477.6 L231.3 477.7 L233.1 477.7 L233.8 477.8 L235.2 477.8 L236.5 477.5 L237.8 477.8 L238.7 476.6 L240.2 477.6 L241.2 477.8 L242.3 477.3 L243.7 477.8 L244.9 477.8 L245.9 478.2 L245.9 477.8 L148.1 477.8 Z" fill="#d6d6d6" stroke="none"/>
<path d="M148.1 476.9 L149.6 476.9 L150.9 476.8 L152.0 475.5 L152.7 476.7 L154.2 476.7 L155.7 476.6 L156.8 475.3 L158.1 475.2 L159.1 476.5 L160.2 475.9 L161.2 476.2 L162.5 475.7 L164.0 474.5 L165.5 474.3 L166.4 475.3 L167.6 474.3 L168.4 472.9 L169.7 472.9 L170.9 471.8 L172.0 471.6 L172.5 469.6 L173.9 470.1 L174.8 468.8 L175.8 467.5 L176.4 466.5 L177.6 466.5 L178.2 466.6 L179.2 464.8 L180.0 463.6 L180.4 464.2 L180.8 460.3 L181.2 461.1 L182.2 458.0 L182.2 459.9 L183.0 457.3 L183.5 456.4 L183.6 454.7 L184.5 455.1 L184.4 453.0 L184.8 451.8 L185.1 452.7 L186.0 449.3 L185.9 447.7 L186.6 447.9 L186.8 445.4 L187.7 445.9 L187.7 443.6 L188.3 444.6 L188.5 442.1 L189.2 441.6 L190.4 440.2 L190.9 440.5 L191.1 440.2 L191.9 443.4 L191.9 445.0 L192.4 446.3 L192.6 445.0 L193.0 446.8 L193.6 448.6 L193.6 447.7 L193.9 451.5 L194.4 452.1 L194.8 451.3 L195.7 453.1 L196.0 453.0 L196.1 455.3 L196.4 455.8 L197.1 458.3 L197.7 457.4 L198.5 460.6 L198.4 460.9 L199.4 462.6 L200.2 464.1 L200.4 463.8 L201.3 464.3 L201.6 467.0 L202.4 466.5 L203.1 467.5 L203.7 467.7 L204.6 470.1 L205.4 472.2 L206.6 472.2 L206.9 473.3 L208.2 474.4 L208.8 474.3 L210.0 475.7 L211.1 475.6 L212.1 475.2 L213.3 475.9 L214.1 476.5 L215.1 476.6 L216.3 475.4 L217.5 476.8 L219.0 476.9 L220.1 477.0 L221.3 475.7 L222.3 476.3 L223.5 477.2 L224.8 476.5 L225.6 477.4 L226.8 477.5 L228.2 477.1 L229.3 477.6 L230.2 477.6 L231.3 477.7 L233.1 477.7 L233.8 477.8 L235.2 477.8 L236.5 477.5 L237.8 477.8 L238.7 476.6 L240.2 477.6 L241.2 477.8 L242.3 477.3 L243.7 477.8 L244.9 477.8 L245.9 478.2" fill="none" stroke="#141414" stroke-width="1.12" stroke-linejoin="round"/>
<path d="M148.1 470.1 L149.6 469.4 L150.8 469.9 L151.3 470.7 L152.8 469.1 L153.3 468.2 L154.4 469.2 L155.5 466.0 L156.4 467.7 L157.3 466.8 L158.1 464.8 L158.7 464.0 L159.0 462.9 L160.3 460.4 L160.4 459.5 L161.2 459.5 L162.4 458.9 L163.5 456.7 L164.4 457.4 L164.5 456.7 L165.5 454.8 L165.4 455.0 L165.7 453.6 L166.3 451.8 L166.8 452.7 L167.2 450.0 L168.0 450.9 L168.5 449.5 L169.7 447.9 L170.8 449.7 L171.8 449.0 L173.1 447.7 L173.9 447.3 L174.1 449.8 L174.8 448.0 L174.9 452.1 L175.3 452.3 L176.0 453.2 L176.4 452.9 L177.0 456.9 L177.3 457.5 L177.6 457.0 L177.8 458.0 L178.4 459.1 L178.5 459.9 L179.2 462.7 L179.7 464.4 L179.8 463.9 L180.1 466.3 L181.0 467.9 L181.0 469.4 L181.6 470.0 L182.2 469.3 L182.4 471.2 L182.8 471.5 L184.0 474.0 L184.0 474.5 L185.0 475.0 L185.6 476.0 L186.5 476.4 L188.0 476.4 L188.7 477.1 L189.8 477.5 L191.0 477.5 L192.4 477.5 L193.5 476.7 L194.4 477.6 L195.9 477.6 L196.8 476.8 L198.0 476.3 L199.2 477.6 L200.4 477.2 L201.6 477.2 L203.0 477.7 L203.8 477.3 L205.4 477.7 L206.5 477.7 L207.6 477.7 L209.1 477.3 L210.1 477.0 L211.3 477.8 L212.5 477.8 L213.4 477.0 L214.7 477.8 L216.2 477.8 L217.2 477.8 L218.6 477.8 L219.5 477.8 L221.1 476.6 L221.8 476.6 L223.3 477.1 L224.7 477.8 L225.6 476.6 L226.9 477.2 L227.9 476.7 L229.3 477.6 L230.4 477.8 L231.7 476.7 L233.1 477.8 L234.1 477.8 L235.4 476.8 L236.4 477.8 L237.3 476.8 L238.8 477.8 L240.0 477.7 L240.9 477.8 L242.4 477.8 L243.5 477.8 L244.6 477.8 L245.9 478.2" fill="none" stroke="#141414" stroke-width="1.12" stroke-linejoin="round"/>
<rect x="146.6" y="442.6" width="1.5" height="35.2" fill="#111"/>
<rect x="40.1" y="33.3" width="101.8" height="445.7" fill="none" stroke="#222" stroke-width="1.5"/>
<line x1="40.1" y1="103.3" x2="141.9" y2="103.3" stroke="#222" stroke-width="1.5"/>
<line x1="40.1" y1="178.2" x2="141.9" y2="178.2" stroke="#222" stroke-width="1.5"/>
<line x1="40.1" y1="254.4" x2="141.9" y2="254.4" stroke="#222" stroke-width="1.5"/>
<line x1="40.1" y1="328.1" x2="141.9" y2="328.1" stroke="#222" stroke-width="1.5"/>
<line x1="40.1" y1="403.9" x2="141.9" y2="403.9" stroke="#222" stroke-width="1.5"/>
<rect x="146.1" y="33.3" width="101.8" height="445.7" fill="none" stroke="#222" stroke-width="1.5"/>
<line x1="146.1" y1="103.3" x2="247.9" y2="103.3" stroke="#222" stroke-width="1.5"/>
<line x1="146.1" y1="178.2" x2="247.9" y2="178.2" stroke="#222" stroke-width="1.5"/>
<line x1="146.1" y1="254.4" x2="247.9" y2="254.4" stroke="#222" stroke-width="1.5"/>
<line x1="146.1" y1="328.1" x2="247.9" y2="328.1" stroke="#222" stroke-width="1.5"/>
<line x1="146.1" y1="403.9" x2="247.9" y2="403.9" stroke="#222" stroke-width="1.5"/>
</g>
<g id="charts">
<path d="M332.8 36.7 V214.5 M329.7 214.5 H520.0" fill="none" stroke="#000" stroke-width="1.7"/>
<line x1="329.7" y1="37.3" x2="332.8" y2="37.3" stroke="#000" stroke-width="1.4"/>
<line x1="329.7" y1="95.9" x2="332.8" y2="95.9" stroke="#000" stroke-width="1.4"/>
<line x1="329.7" y1="155.4" x2="332.8" y2="155.4" stroke="#000" stroke-width="1.4"/>
<rect x="353.10" y="154.10" width="53.10" height="61.25" fill="#000"/>
<rect x="445.60" y="83.80" width="53.10" height="131.55" fill="#000"/>
<path d="M379.7 155.0 V151.3 M377.4 151.3 H382.0" stroke="#111" stroke-width="1.0" fill="none"/>
<path d="M473.4 84.5 V78.2 M471.3 78.2 H475.5" stroke="#111" stroke-width="1.0" fill="none"/>
<line x1="346.6" y1="239.4" x2="504.5" y2="239.4" stroke="#000" stroke-width="1.3"/>
<path d="M333.0 322.9 V499.9 M329.9 499.9 H520.0" fill="none" stroke="#000" stroke-width="1.7"/>
<line x1="329.9" y1="323.5" x2="333.0" y2="323.5" stroke="#000" stroke-width="1.4"/>
<line x1="329.9" y1="367.9" x2="333.0" y2="367.9" stroke="#000" stroke-width="1.4"/>
<line x1="329.9" y1="411.4" x2="333.0" y2="411.4" stroke="#000" stroke-width="1.4"/>
<line x1="329.9" y1="456.0" x2="333.0" y2="456.0" stroke="#000" stroke-width="1.4"/>
<path d="M363.4 383.0 V373.6 M361.4 373.6 H365.4" stroke="#222" stroke-width="1.0" fill="none"/>
<path d="M396.6 387.0 V372.0 M394.6 372.0 H398.6" stroke="#222" stroke-width="1.0" fill="none"/>
<path d="M456.5 390.5 V382.4 M454.5 382.4 H458.5" stroke="#222" stroke-width="1.0" fill="none"/>
<path d="M489.3 377.0 V363.2 M487.3 363.2 H491.3" stroke="#222" stroke-width="1.0" fill="none"/>
<rect x="346.55" y="382.55" width="32.70" height="117.45" fill="#fff" stroke="#000" stroke-width="1.5"/>
<rect x="379.20" y="386.20" width="33.90" height="114.55" fill="#000"/>
<rect x="440.05" y="390.35" width="32.20" height="109.65" fill="#fff" stroke="#000" stroke-width="1.5"/>
<rect x="471.90" y="376.20" width="35.10" height="124.55" fill="#000"/>
<rect x="404.80" y="320.80" width="17.00" height="12.75" fill="#fff" stroke="#000" stroke-width="1.4"/>
<rect x="403.70" y="343.00" width="19.20" height="13.70" fill="#000"/>
<path d="M71.1 556.8 V734.5 M68.0 734.5 H258.3" fill="none" stroke="#000" stroke-width="1.7"/>
<line x1="68.0" y1="557.4" x2="71.1" y2="557.4" stroke="#000" stroke-width="1.4"/>
<line x1="68.0" y1="601.3" x2="71.1" y2="601.3" stroke="#000" stroke-width="1.4"/>
<line x1="68.0" y1="645.9" x2="71.1" y2="645.9" stroke="#000" stroke-width="1.4"/>
<line x1="68.0" y1="690.0" x2="71.1" y2="690.0" stroke="#000" stroke-width="1.4"/>
<path d="M101.8 670.5 V642.7 M99.8 642.7 H103.8" stroke="#222" stroke-width="1.0" fill="none"/>
<path d="M134.9 661.5 V636.6 M132.9 636.6 H136.9" stroke="#222" stroke-width="1.0" fill="none"/>
<path d="M195.4 652.5 V640.6 M193.4 640.6 H197.4" stroke="#222" stroke-width="1.0" fill="none"/>
<path d="M228.5 668.0 V662.7 M226.5 662.7 H230.5" stroke="#222" stroke-width="1.0" fill="none"/>
<rect x="84.95" y="670.35" width="32.30" height="64.25" fill="#fff" stroke="#000" stroke-width="1.5"/>
<rect x="117.20" y="660.70" width="34.60" height="74.65" fill="#000"/>
<rect x="178.55" y="652.25" width="33.00" height="82.35" fill="#fff" stroke="#000" stroke-width="1.5"/>
<rect x="211.20" y="667.30" width="34.10" height="68.05" fill="#000"/>
<rect x="141.80" y="563.80" width="17.10" height="12.75" fill="#fff" stroke="#000" stroke-width="1.4"/>
<rect x="140.70" y="585.70" width="19.20" height="14.00" fill="#000"/>
</g>
<g id="labels">
<text transform="translate(0.55,17.80) scale(1.0000,1)" font-size="25.60" style="font-family:'Liberation Sans', sans-serif;font-weight:bold">A</text>
<text transform="translate(277.38,17.70) scale(1.0000,1)" font-size="25.20" style="font-family:'Liberation Sans', sans-serif;font-weight:bold">B</text>
<text transform="translate(277.25,303.45) scale(1.0000,1)" font-size="25.20" style="font-family:'Liberation Sans', sans-serif;font-weight:bold">C</text>
<text transform="translate(-0.95,543.80) scale(1.0000,1)" font-size="25.20" style="font-family:'Liberation Sans', sans-serif;font-weight:bold">D</text>
<text transform="translate(83.82,23.60) scale(1.0350,1)" font-size="17.90" style="font-family:'Liberation Sans', sans-serif;font-weight:normal">WT</text>
<text transform="translate(180.58,23.60) scale(1.0350,1)" font-size="17.90" style="font-family:'Liberation Sans', sans-serif;font-weight:normal">KI</text>
<text transform="translate(108.74,47.70) scale(1.0450,1)" font-size="17.60" style="font-family:'Liberation Sans', sans-serif;font-weight:normal">298</text>
<text transform="translate(119.39,119.60) scale(1.0450,1)" font-size="17.60" style="font-family:'Liberation Sans', sans-serif;font-weight:normal">42</text>
<text transform="translate(106.02,195.40) scale(1.0450,1)" font-size="17.60" style="font-family:'Liberation Sans', sans-serif;font-weight:normal">151</text>
<text transform="translate(118.91,273.40) scale(1.0450,1)" font-size="17.60" style="font-family:'Liberation Sans', sans-serif;font-weight:normal">42</text>
<text transform="translate(108.56,345.70) scale(1.0450,1)" font-size="17.60" style="font-family:'Liberation Sans', sans-serif;font-weight:normal">950</text>
<text transform="translate(118.51,421.20) scale(1.0450,1)" font-size="17.60" style="font-family:'Liberation Sans', sans-serif;font-weight:normal">92</text>
<text transform="translate(208.71,48.20) scale(1.0450,1)" font-size="17.60" style="font-family:'Liberation Sans', sans-serif;font-weight:normal">133</text>
<text transform="translate(218.29,121.50) scale(1.0450,1)" font-size="17.60" style="font-family:'Liberation Sans', sans-serif;font-weight:normal">43</text>
<text transform="translate(218.33,196.50) scale(1.0450,1)" font-size="17.60" style="font-family:'Liberation Sans', sans-serif;font-weight:normal">80</text>
<text transform="translate(218.68,272.50) scale(1.0450,1)" font-size="17.60" style="font-family:'Liberation Sans', sans-serif;font-weight:normal">26</text>
<text transform="translate(208.19,345.30) scale(1.0450,1)" font-size="17.60" style="font-family:'Liberation Sans', sans-serif;font-weight:normal">924</text>
<text transform="translate(217.46,422.80) scale(1.0450,1)" font-size="17.60" style="font-family:'Liberation Sans', sans-serif;font-weight:normal">91</text>
<text transform="translate(78.84,498.60) scale(1.0450,1)" font-size="17.60" style="font-family:'Liberation Sans', sans-serif;font-weight:normal">Log fluorescent</text>
<text transform="translate(299.84,40.40) scale(1.0450,1)" font-size="17.60" style="font-family:'Liberation Sans', sans-serif;font-weight:normal">1.5</text>
<text transform="translate(299.84,100.50) scale(1.0450,1)" font-size="17.60" style="font-family:'Liberation Sans', sans-serif;font-weight:normal">1.0</text>
<text transform="translate(299.50,161.20) scale(1.0450,1)" font-size="17.60" style="font-family:'Liberation Sans', sans-serif;font-weight:normal">0.5</text>
<text transform="translate(308.91,219.60) scale(1.0450,1)" font-size="17.60" style="font-family:'Liberation Sans', sans-serif;font-weight:normal">0</text>
<text transform="translate(369.36,231.00) scale(1.0450,1)" font-size="17.60" style="font-family:'Liberation Sans', sans-serif;font-weight:normal">(-)</text>
<text transform="translate(459.56,231.00) scale(1.0450,1)" font-size="17.60" style="font-family:'Liberation Sans', sans-serif;font-weight:normal">(+)</text>
<text transform="translate(359.16,260.10) scale(1.0450,1)" font-size="17.60" style="font-family:'Liberation Sans', sans-serif;font-weight:normal">Permeabilization</text>
<text transform="translate(292.80,191.54) rotate(-90) scale(1.0150,1)" font-size="17.60" xml:space="preserve" style="white-space:pre;font-family:'Liberation Sans', sans-serif;font-weight:normal">MFI ratio (KI/WT)</text>
<text transform="translate(299.77,328.50) scale(1.0450,1)" font-size="17.60" style="font-family:'Liberation Sans', sans-serif;font-weight:normal">2.0</text>
<text transform="translate(300.34,373.50) scale(1.0450,1)" font-size="17.60" style="font-family:'Liberation Sans', sans-serif;font-weight:normal">1.5</text>
<text transform="translate(300.44,416.10) scale(1.0450,1)" font-size="17.60" style="font-family:'Liberation Sans', sans-serif;font-weight:normal">1.0</text>
<text transform="translate(300.05,461.40) scale(1.0450,1)" font-size="17.60" style="font-family:'Liberation Sans', sans-serif;font-weight:normal">0.5</text>
<text transform="translate(309.91,505.50) scale(1.0450,1)" font-size="17.60" style="font-family:'Liberation Sans', sans-serif;font-weight:normal">0</text>
<text transform="translate(432.91,332.90) scale(1.0450,1)" font-size="17.60" style="font-family:'Liberation Sans', sans-serif;font-weight:normal">WT</text>
<text transform="translate(437.03,355.70) scale(1.0450,1)" font-size="17.60" style="font-family:'Liberation Sans', sans-serif;font-weight:normal">KI</text>
<text transform="translate(366.80,522.30) scale(1.0450,1)" font-size="17.60" style="font-family:'Liberation Sans', sans-serif;font-weight:normal">SP</text>
<text transform="translate(455.00,522.40) scale(1.0450,1)" font-size="17.60" style="font-family:'Liberation Sans', sans-serif;font-weight:normal">PLN</text>
<text transform="translate(293.30,499.44) rotate(-90) scale(1.0150,1)" font-size="17.60" xml:space="preserve" style="white-space:pre;font-family:'Liberation Sans', sans-serif;font-weight:normal">Relative  mRNA level</text>
<text transform="translate(38.42,562.70) scale(1.0450,1)" font-size="17.60" style="font-family:'Liberation Sans', sans-serif;font-weight:normal">2.0</text>
<text transform="translate(39.04,605.80) scale(1.0450,1)" font-size="17.60" style="font-family:'Liberation Sans', sans-serif;font-weight:normal">1.5</text>
<text transform="translate(39.04,650.30) scale(1.0450,1)" font-size="17.60" style="font-family:'Liberation Sans', sans-serif;font-weight:normal">1.0</text>
<text transform="translate(38.65,695.00) scale(1.0450,1)" font-size="17.60" style="font-family:'Liberation Sans', sans-serif;font-weight:normal">0.5</text>
<text transform="translate(48.16,739.30) scale(1.0450,1)" font-size="17.60" style="font-family:'Liberation Sans', sans-serif;font-weight:normal">0</text>
<text transform="translate(169.91,575.90) scale(1.0450,1)" font-size="17.60" style="font-family:'Liberation Sans', sans-serif;font-weight:normal">WT</text>
<text transform="translate(173.88,599.10) scale(1.0450,1)" font-size="17.60" style="font-family:'Liberation Sans', sans-serif;font-weight:normal">KI</text>
<text transform="translate(92.91,756.40) scale(1.0450,1)" font-size="17.60" style="font-family:'Liberation Sans', sans-serif;font-weight:normal">XBP-1</text>
<text transform="translate(182.04,756.40) scale(1.0450,1)" font-size="17.60" style="font-family:'Liberation Sans', sans-serif;font-weight:normal">GRP78</text>
<text transform="translate(34.60,731.29) rotate(-90) scale(1.0150,1)" font-size="17.60" xml:space="preserve" style="white-space:pre;font-family:'Liberation Sans', sans-serif;font-weight:normal">Relative  mRNA level</text>
<text transform="translate(12.90,80.06) scale(1.1297,0.9744)" font-size="20" style="font-family:'Liberation Serif', serif;font-weight:normal">α</text>
<text transform="translate(24.10,84.20) scale(0.6817,0.6618)" font-size="20" style="font-family:'Liberation Sans', sans-serif;font-weight:normal">4</text>
<text transform="translate(13.74,148.86) scale(0.9081,0.8800)" font-size="20" style="font-family:'Liberation Sans', sans-serif;font-weight:normal">β</text>
<text transform="translate(23.20,152.90) scale(0.6292,0.6109)" font-size="20" style="font-family:'Liberation Sans', sans-serif;font-weight:normal">1</text>
<text transform="translate(13.62,222.79) scale(0.9189,0.8960)" font-size="20" style="font-family:'Liberation Sans', sans-serif;font-weight:normal">β</text>
<text transform="translate(23.77,227.40) scale(0.6892,0.6691)" font-size="20" style="font-family:'Liberation Sans', sans-serif;font-weight:normal">7</text>
<text transform="translate(-0.23,299.06) scale(1.1027,0.9538)" font-size="20" style="font-family:'Liberation Serif', serif;font-weight:normal">α</text>
<text transform="translate(10.83,303.10) scale(0.6667,0.6473)" font-size="20" style="font-family:'Liberation Sans', sans-serif;font-weight:normal">4</text>
<text transform="translate(17.77,299.27) scale(0.8865,0.9013)" font-size="20" style="font-family:'Liberation Sans', sans-serif;font-weight:normal">β</text>
<text transform="translate(27.40,303.10) scale(0.6667,0.6473)" font-size="20" style="font-family:'Liberation Sans', sans-serif;font-weight:normal">7</text>
<text transform="translate(12.56,375.06) scale(1.1243,0.9436)" font-size="20" style="font-family:'Liberation Serif', serif;font-weight:normal">α</text>
<text transform="translate(23.63,379.40) scale(0.6967,0.6764)" font-size="20" style="font-family:'Liberation Sans', sans-serif;font-weight:normal">L</text>
<text transform="translate(13.74,449.86) scale(0.9081,0.8800)" font-size="20" style="font-family:'Liberation Sans', sans-serif;font-weight:normal">β</text>
<text transform="translate(23.98,453.90) scale(0.6621,0.6429)" font-size="20" style="font-family:'Liberation Sans', sans-serif;font-weight:normal">2</text>
</g>
</svg>
</body></html>
